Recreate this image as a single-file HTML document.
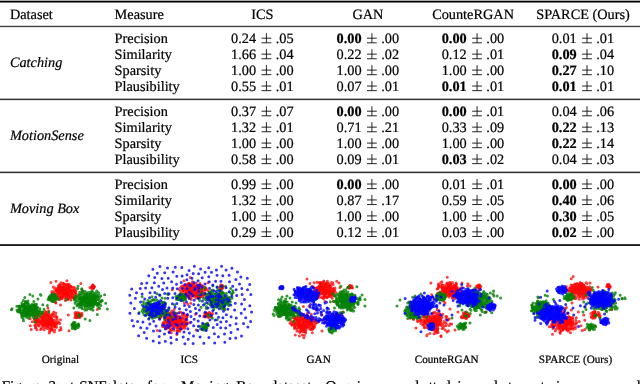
<!DOCTYPE html>
<html><head><meta charset="utf-8"><style>
html,body{margin:0;padding:0;background:#fff;width:640px;height:384px;overflow:hidden}
svg{display:block;will-change:transform}
text{font-family:"Liberation Serif", serif;fill:#000;stroke:#000;stroke-width:0.22px;text-rendering:geometricPrecision}
</style></head><body>
<svg width="640" height="384" viewBox="0 0 640 384">
<g opacity="0.999"><rect x="0" y="0.67" width="640" height="1.86" fill="#000" fill-opacity="1.0" stroke="none"/>
<rect x="0" y="25.78" width="640" height="1.37" fill="#000" fill-opacity="0.76" stroke="none"/>
<rect x="0" y="98.62" width="640" height="1.53" fill="#000" fill-opacity="0.8" stroke="none"/>
<rect x="0" y="171.6" width="640" height="1.57" fill="#000" fill-opacity="0.8" stroke="none"/>
<rect x="0" y="244.1" width="640" height="1.9" fill="#000" fill-opacity="0.88" stroke="none"/>
<text x="9.9" y="18.8" font-size="14.3" text-anchor="start"  >Dataset</text>
<text x="114.6" y="18.8" font-size="14.3" text-anchor="start"  >Measure</text>
<text x="262.4" y="18.8" font-size="14.3" text-anchor="middle"  >ICS</text>
<text x="367.9" y="18.8" font-size="14.3" text-anchor="middle"  >GAN</text>
<text x="473.05" y="18.8" font-size="14.3" text-anchor="middle"  >CounteRGAN</text>
<text x="583.0" y="18.8" font-size="14.3" text-anchor="middle"  >SPARCE (Ours)</text>
<text x="9.9" y="66.925" font-size="14.3" text-anchor="start" font-style="italic" >Catching</text>
<text x="114.6" y="43.0" font-size="14.3" text-anchor="start"  >Precision</text>
<text x="256.10" y="43.0" font-size="14.3" text-anchor="end">0.24</text>
<text x="275.70" y="43.0" font-size="14.3" text-anchor="start">.05</text>
<path d="M261.50 38.20H271.30M261.50 42.80H271.30M266.40 33.20V42.80" stroke="#000" stroke-width="0.85" fill="none"/>
<text x="361.60" y="43.0" font-size="14.3" text-anchor="end" font-weight="bold">0.00</text>
<text x="381.20" y="43.0" font-size="14.3" text-anchor="start">.00</text>
<path d="M367.00 38.20H376.80M367.00 42.80H376.80M371.90 33.20V42.80" stroke="#000" stroke-width="0.85" fill="none"/>
<text x="466.75" y="43.0" font-size="14.3" text-anchor="end" font-weight="bold">0.00</text>
<text x="486.35" y="43.0" font-size="14.3" text-anchor="start">.00</text>
<path d="M472.15 38.20H481.95M472.15 42.80H481.95M477.05 33.20V42.80" stroke="#000" stroke-width="0.85" fill="none"/>
<text x="576.70" y="43.0" font-size="14.3" text-anchor="end">0.01</text>
<text x="596.30" y="43.0" font-size="14.3" text-anchor="start">.01</text>
<path d="M582.10 38.20H591.90M582.10 42.80H591.90M587.00 33.20V42.80" stroke="#000" stroke-width="0.85" fill="none"/>
<text x="114.6" y="58.95" font-size="14.3" text-anchor="start"  >Similarity</text>
<text x="256.10" y="58.95" font-size="14.3" text-anchor="end">1.66</text>
<text x="275.70" y="58.95" font-size="14.3" text-anchor="start">.04</text>
<path d="M261.50 54.15H271.30M261.50 58.75H271.30M266.40 49.15V58.75" stroke="#000" stroke-width="0.85" fill="none"/>
<text x="361.60" y="58.95" font-size="14.3" text-anchor="end">0.22</text>
<text x="381.20" y="58.95" font-size="14.3" text-anchor="start">.02</text>
<path d="M367.00 54.15H376.80M367.00 58.75H376.80M371.90 49.15V58.75" stroke="#000" stroke-width="0.85" fill="none"/>
<text x="466.75" y="58.95" font-size="14.3" text-anchor="end">0.12</text>
<text x="486.35" y="58.95" font-size="14.3" text-anchor="start">.01</text>
<path d="M472.15 54.15H481.95M472.15 58.75H481.95M477.05 49.15V58.75" stroke="#000" stroke-width="0.85" fill="none"/>
<text x="576.70" y="58.95" font-size="14.3" text-anchor="end" font-weight="bold">0.09</text>
<text x="596.30" y="58.95" font-size="14.3" text-anchor="start">.04</text>
<path d="M582.10 54.15H591.90M582.10 58.75H591.90M587.00 49.15V58.75" stroke="#000" stroke-width="0.85" fill="none"/>
<text x="114.6" y="74.9" font-size="14.3" text-anchor="start"  >Sparsity</text>
<text x="256.10" y="74.9" font-size="14.3" text-anchor="end">1.00</text>
<text x="275.70" y="74.9" font-size="14.3" text-anchor="start">.00</text>
<path d="M261.50 70.10H271.30M261.50 74.70H271.30M266.40 65.10V74.70" stroke="#000" stroke-width="0.85" fill="none"/>
<text x="361.60" y="74.9" font-size="14.3" text-anchor="end">1.00</text>
<text x="381.20" y="74.9" font-size="14.3" text-anchor="start">.00</text>
<path d="M367.00 70.10H376.80M367.00 74.70H376.80M371.90 65.10V74.70" stroke="#000" stroke-width="0.85" fill="none"/>
<text x="466.75" y="74.9" font-size="14.3" text-anchor="end">1.00</text>
<text x="486.35" y="74.9" font-size="14.3" text-anchor="start">.00</text>
<path d="M472.15 70.10H481.95M472.15 74.70H481.95M477.05 65.10V74.70" stroke="#000" stroke-width="0.85" fill="none"/>
<text x="576.70" y="74.9" font-size="14.3" text-anchor="end" font-weight="bold">0.27</text>
<text x="596.30" y="74.9" font-size="14.3" text-anchor="start">.10</text>
<path d="M582.10 70.10H591.90M582.10 74.70H591.90M587.00 65.10V74.70" stroke="#000" stroke-width="0.85" fill="none"/>
<text x="114.6" y="90.85" font-size="14.3" text-anchor="start"  >Plausibility</text>
<text x="256.10" y="90.85" font-size="14.3" text-anchor="end">0.55</text>
<text x="275.70" y="90.85" font-size="14.3" text-anchor="start">.01</text>
<path d="M261.50 86.05H271.30M261.50 90.65H271.30M266.40 81.05V90.65" stroke="#000" stroke-width="0.85" fill="none"/>
<text x="361.60" y="90.85" font-size="14.3" text-anchor="end">0.07</text>
<text x="381.20" y="90.85" font-size="14.3" text-anchor="start">.01</text>
<path d="M367.00 86.05H376.80M367.00 90.65H376.80M371.90 81.05V90.65" stroke="#000" stroke-width="0.85" fill="none"/>
<text x="466.75" y="90.85" font-size="14.3" text-anchor="end" font-weight="bold">0.01</text>
<text x="486.35" y="90.85" font-size="14.3" text-anchor="start">.01</text>
<path d="M472.15 86.05H481.95M472.15 90.65H481.95M477.05 81.05V90.65" stroke="#000" stroke-width="0.85" fill="none"/>
<text x="576.70" y="90.85" font-size="14.3" text-anchor="end" font-weight="bold">0.01</text>
<text x="596.30" y="90.85" font-size="14.3" text-anchor="start">.01</text>
<path d="M582.10 86.05H591.90M582.10 90.65H591.90M587.00 81.05V90.65" stroke="#000" stroke-width="0.85" fill="none"/>
<text x="9.9" y="139.925" font-size="14.3" text-anchor="start" font-style="italic" >MotionSense</text>
<text x="114.6" y="116.0" font-size="14.3" text-anchor="start"  >Precision</text>
<text x="256.10" y="116.0" font-size="14.3" text-anchor="end">0.37</text>
<text x="275.70" y="116.0" font-size="14.3" text-anchor="start">.07</text>
<path d="M261.50 111.20H271.30M261.50 115.80H271.30M266.40 106.20V115.80" stroke="#000" stroke-width="0.85" fill="none"/>
<text x="361.60" y="116.0" font-size="14.3" text-anchor="end" font-weight="bold">0.00</text>
<text x="381.20" y="116.0" font-size="14.3" text-anchor="start">.00</text>
<path d="M367.00 111.20H376.80M367.00 115.80H376.80M371.90 106.20V115.80" stroke="#000" stroke-width="0.85" fill="none"/>
<text x="466.75" y="116.0" font-size="14.3" text-anchor="end" font-weight="bold">0.00</text>
<text x="486.35" y="116.0" font-size="14.3" text-anchor="start">.01</text>
<path d="M472.15 111.20H481.95M472.15 115.80H481.95M477.05 106.20V115.80" stroke="#000" stroke-width="0.85" fill="none"/>
<text x="576.70" y="116.0" font-size="14.3" text-anchor="end">0.04</text>
<text x="596.30" y="116.0" font-size="14.3" text-anchor="start">.06</text>
<path d="M582.10 111.20H591.90M582.10 115.80H591.90M587.00 106.20V115.80" stroke="#000" stroke-width="0.85" fill="none"/>
<text x="114.6" y="131.95" font-size="14.3" text-anchor="start"  >Similarity</text>
<text x="256.10" y="131.95" font-size="14.3" text-anchor="end">1.32</text>
<text x="275.70" y="131.95" font-size="14.3" text-anchor="start">.01</text>
<path d="M261.50 127.15H271.30M261.50 131.75H271.30M266.40 122.15V131.75" stroke="#000" stroke-width="0.85" fill="none"/>
<text x="361.60" y="131.95" font-size="14.3" text-anchor="end">0.71</text>
<text x="381.20" y="131.95" font-size="14.3" text-anchor="start">.21</text>
<path d="M367.00 127.15H376.80M367.00 131.75H376.80M371.90 122.15V131.75" stroke="#000" stroke-width="0.85" fill="none"/>
<text x="466.75" y="131.95" font-size="14.3" text-anchor="end">0.33</text>
<text x="486.35" y="131.95" font-size="14.3" text-anchor="start">.09</text>
<path d="M472.15 127.15H481.95M472.15 131.75H481.95M477.05 122.15V131.75" stroke="#000" stroke-width="0.85" fill="none"/>
<text x="576.70" y="131.95" font-size="14.3" text-anchor="end" font-weight="bold">0.22</text>
<text x="596.30" y="131.95" font-size="14.3" text-anchor="start">.13</text>
<path d="M582.10 127.15H591.90M582.10 131.75H591.90M587.00 122.15V131.75" stroke="#000" stroke-width="0.85" fill="none"/>
<text x="114.6" y="147.9" font-size="14.3" text-anchor="start"  >Sparsity</text>
<text x="256.10" y="147.9" font-size="14.3" text-anchor="end">1.00</text>
<text x="275.70" y="147.9" font-size="14.3" text-anchor="start">.00</text>
<path d="M261.50 143.10H271.30M261.50 147.70H271.30M266.40 138.10V147.70" stroke="#000" stroke-width="0.85" fill="none"/>
<text x="361.60" y="147.9" font-size="14.3" text-anchor="end">1.00</text>
<text x="381.20" y="147.9" font-size="14.3" text-anchor="start">.00</text>
<path d="M367.00 143.10H376.80M367.00 147.70H376.80M371.90 138.10V147.70" stroke="#000" stroke-width="0.85" fill="none"/>
<text x="466.75" y="147.9" font-size="14.3" text-anchor="end">1.00</text>
<text x="486.35" y="147.9" font-size="14.3" text-anchor="start">.00</text>
<path d="M472.15 143.10H481.95M472.15 147.70H481.95M477.05 138.10V147.70" stroke="#000" stroke-width="0.85" fill="none"/>
<text x="576.70" y="147.9" font-size="14.3" text-anchor="end" font-weight="bold">0.22</text>
<text x="596.30" y="147.9" font-size="14.3" text-anchor="start">.14</text>
<path d="M582.10 143.10H591.90M582.10 147.70H591.90M587.00 138.10V147.70" stroke="#000" stroke-width="0.85" fill="none"/>
<text x="114.6" y="163.85" font-size="14.3" text-anchor="start"  >Plausibility</text>
<text x="256.10" y="163.85" font-size="14.3" text-anchor="end">0.58</text>
<text x="275.70" y="163.85" font-size="14.3" text-anchor="start">.00</text>
<path d="M261.50 159.05H271.30M261.50 163.65H271.30M266.40 154.05V163.65" stroke="#000" stroke-width="0.85" fill="none"/>
<text x="361.60" y="163.85" font-size="14.3" text-anchor="end">0.09</text>
<text x="381.20" y="163.85" font-size="14.3" text-anchor="start">.01</text>
<path d="M367.00 159.05H376.80M367.00 163.65H376.80M371.90 154.05V163.65" stroke="#000" stroke-width="0.85" fill="none"/>
<text x="466.75" y="163.85" font-size="14.3" text-anchor="end" font-weight="bold">0.03</text>
<text x="486.35" y="163.85" font-size="14.3" text-anchor="start">.02</text>
<path d="M472.15 159.05H481.95M472.15 163.65H481.95M477.05 154.05V163.65" stroke="#000" stroke-width="0.85" fill="none"/>
<text x="576.70" y="163.85" font-size="14.3" text-anchor="end">0.04</text>
<text x="596.30" y="163.85" font-size="14.3" text-anchor="start">.03</text>
<path d="M582.10 159.05H591.90M582.10 163.65H591.90M587.00 154.05V163.65" stroke="#000" stroke-width="0.85" fill="none"/>
<text x="9.9" y="212.72500000000002" font-size="14.3" text-anchor="start" font-style="italic" >Moving Box</text>
<text x="114.6" y="188.8" font-size="14.3" text-anchor="start"  >Precision</text>
<text x="256.10" y="188.8" font-size="14.3" text-anchor="end">0.99</text>
<text x="275.70" y="188.8" font-size="14.3" text-anchor="start">.00</text>
<path d="M261.50 184.00H271.30M261.50 188.60H271.30M266.40 179.00V188.60" stroke="#000" stroke-width="0.85" fill="none"/>
<text x="361.60" y="188.8" font-size="14.3" text-anchor="end" font-weight="bold">0.00</text>
<text x="381.20" y="188.8" font-size="14.3" text-anchor="start">.00</text>
<path d="M367.00 184.00H376.80M367.00 188.60H376.80M371.90 179.00V188.60" stroke="#000" stroke-width="0.85" fill="none"/>
<text x="466.75" y="188.8" font-size="14.3" text-anchor="end">0.01</text>
<text x="486.35" y="188.8" font-size="14.3" text-anchor="start">.01</text>
<path d="M472.15 184.00H481.95M472.15 188.60H481.95M477.05 179.00V188.60" stroke="#000" stroke-width="0.85" fill="none"/>
<text x="576.70" y="188.8" font-size="14.3" text-anchor="end" font-weight="bold">0.00</text>
<text x="596.30" y="188.8" font-size="14.3" text-anchor="start">.00</text>
<path d="M582.10 184.00H591.90M582.10 188.60H591.90M587.00 179.00V188.60" stroke="#000" stroke-width="0.85" fill="none"/>
<text x="114.6" y="204.75" font-size="14.3" text-anchor="start"  >Similarity</text>
<text x="256.10" y="204.75" font-size="14.3" text-anchor="end">1.32</text>
<text x="275.70" y="204.75" font-size="14.3" text-anchor="start">.00</text>
<path d="M261.50 199.95H271.30M261.50 204.55H271.30M266.40 194.95V204.55" stroke="#000" stroke-width="0.85" fill="none"/>
<text x="361.60" y="204.75" font-size="14.3" text-anchor="end">0.87</text>
<text x="381.20" y="204.75" font-size="14.3" text-anchor="start">.17</text>
<path d="M367.00 199.95H376.80M367.00 204.55H376.80M371.90 194.95V204.55" stroke="#000" stroke-width="0.85" fill="none"/>
<text x="466.75" y="204.75" font-size="14.3" text-anchor="end">0.59</text>
<text x="486.35" y="204.75" font-size="14.3" text-anchor="start">.05</text>
<path d="M472.15 199.95H481.95M472.15 204.55H481.95M477.05 194.95V204.55" stroke="#000" stroke-width="0.85" fill="none"/>
<text x="576.70" y="204.75" font-size="14.3" text-anchor="end" font-weight="bold">0.40</text>
<text x="596.30" y="204.75" font-size="14.3" text-anchor="start">.06</text>
<path d="M582.10 199.95H591.90M582.10 204.55H591.90M587.00 194.95V204.55" stroke="#000" stroke-width="0.85" fill="none"/>
<text x="114.6" y="220.70000000000002" font-size="14.3" text-anchor="start"  >Sparsity</text>
<text x="256.10" y="220.70000000000002" font-size="14.3" text-anchor="end">1.00</text>
<text x="275.70" y="220.70000000000002" font-size="14.3" text-anchor="start">.00</text>
<path d="M261.50 215.90H271.30M261.50 220.50H271.30M266.40 210.90V220.50" stroke="#000" stroke-width="0.85" fill="none"/>
<text x="361.60" y="220.70000000000002" font-size="14.3" text-anchor="end">1.00</text>
<text x="381.20" y="220.70000000000002" font-size="14.3" text-anchor="start">.00</text>
<path d="M367.00 215.90H376.80M367.00 220.50H376.80M371.90 210.90V220.50" stroke="#000" stroke-width="0.85" fill="none"/>
<text x="466.75" y="220.70000000000002" font-size="14.3" text-anchor="end">1.00</text>
<text x="486.35" y="220.70000000000002" font-size="14.3" text-anchor="start">.00</text>
<path d="M472.15 215.90H481.95M472.15 220.50H481.95M477.05 210.90V220.50" stroke="#000" stroke-width="0.85" fill="none"/>
<text x="576.70" y="220.70000000000002" font-size="14.3" text-anchor="end" font-weight="bold">0.30</text>
<text x="596.30" y="220.70000000000002" font-size="14.3" text-anchor="start">.05</text>
<path d="M582.10 215.90H591.90M582.10 220.50H591.90M587.00 210.90V220.50" stroke="#000" stroke-width="0.85" fill="none"/>
<text x="114.6" y="236.65" font-size="14.3" text-anchor="start"  >Plausibility</text>
<text x="256.10" y="236.65" font-size="14.3" text-anchor="end">0.29</text>
<text x="275.70" y="236.65" font-size="14.3" text-anchor="start">.00</text>
<path d="M261.50 231.85H271.30M261.50 236.45H271.30M266.40 226.85V236.45" stroke="#000" stroke-width="0.85" fill="none"/>
<text x="361.60" y="236.65" font-size="14.3" text-anchor="end">0.12</text>
<text x="381.20" y="236.65" font-size="14.3" text-anchor="start">.01</text>
<path d="M367.00 231.85H376.80M367.00 236.45H376.80M371.90 226.85V236.45" stroke="#000" stroke-width="0.85" fill="none"/>
<text x="466.75" y="236.65" font-size="14.3" text-anchor="end">0.03</text>
<text x="486.35" y="236.65" font-size="14.3" text-anchor="start">.00</text>
<path d="M472.15 231.85H481.95M472.15 236.45H481.95M477.05 226.85V236.45" stroke="#000" stroke-width="0.85" fill="none"/>
<text x="576.70" y="236.65" font-size="14.3" text-anchor="end" font-weight="bold">0.02</text>
<text x="596.30" y="236.65" font-size="14.3" text-anchor="start">.00</text>
<path d="M582.10 231.85H591.90M582.10 236.45H591.90M587.00 226.85V236.45" stroke="#000" stroke-width="0.85" fill="none"/>
<text x="60.4" y="362.8" font-size="11.2" text-anchor="middle"  >Original</text>
<text x="189.3" y="362.8" font-size="11.2" text-anchor="middle"  >ICS</text>
<text x="318.6" y="362.8" font-size="11.2" text-anchor="middle"  >GAN</text>
<text x="446.7" y="362.8" font-size="11.2" text-anchor="middle"  >CounteRGAN</text>
<text x="575.5" y="362.8" font-size="11.2" text-anchor="middle"  >SPARCE (Ours)</text>
<text x="1.7" y="391.2" font-size="15" text-anchor="start"  >Figure</text>
<text x="48.5" y="391.2" font-size="15" text-anchor="start"  >3:</text>
<text x="70" y="391.2" font-size="15" text-anchor="start"  >t-SNE</text>
<text x="105.5" y="391.2" font-size="15" text-anchor="start"  >plots</text>
<text x="147" y="391.2" font-size="15" text-anchor="start"  >for</text>
<text x="181" y="391.2" font-size="15" text-anchor="start"  >Moving</text>
<text x="236.25" y="391.2" font-size="15" text-anchor="start"  >Box</text>
<text x="269.8" y="391.2" font-size="15" text-anchor="start"  >dataset.</text>
<text x="325.6" y="391.2" font-size="15" text-anchor="start"  >Our</text>
<text x="356.8" y="391.2" font-size="15" text-anchor="start"  >i</text>
<text x="415.2" y="391.2" font-size="15" text-anchor="start"  >l</text>
<text x="428.8" y="391.2" font-size="15" text-anchor="start"  >t</text>
<text x="432.8" y="391.2" font-size="15" text-anchor="start"  >t</text>
<text x="443.3" y="391.2" font-size="15" text-anchor="start"  >d</text>
<text x="457.3" y="391.2" font-size="15" text-anchor="start"  >i</text>
<text x="494" y="391.2" font-size="15" text-anchor="start"  >l</text>
<text x="508" y="391.2" font-size="15" text-anchor="start"  >t</text>
<text x="540.5" y="391.2" font-size="15" text-anchor="start"  >t</text>
<text x="556" y="391.2" font-size="15" text-anchor="start"  >i</text>
<text x="636.8" y="391.2" font-size="15" text-anchor="start"  >l</text></g>
<g transform="scale(0.1)" fill="none" stroke-width="30" stroke-linecap="round"><path stroke="#ff0000" stroke-opacity="0.75" d="M576 3225h0M530 3250h0M516 3299h0M593 2961h0M796 3170h0M426 3262h0M671 2913h0M450 3187h0M607 2906h0M495 3164h0M729 2981h0M570 2965h0M684 2946h0M636 2927h0M680 2996h0M924 2875h0M443 3138h0M444 3245h0M495 3275h0M800 3144h0M511 3177h0M518 3236h0M493 3330h0M492 3265h0M711 2924h0M777 3158h0M431 3236h0M590 2919h0M541 3252h0M587 2877h0M712 2925h0M669 2807h0M495 3187h0M652 2956h0M604 2905h0M498 3316h0M678 2900h0M382 3216h0M680 2899h0M450 3195h0M543 3262h0M596 3303h0M661 2930h0M605 2867h0M696 2961h0M534 3163h0M383 3205h0M454 3195h0M453 3194h0M559 3030h0M558 3130h0M521 2915h0M403 3165h0M546 3249h0M490 3140h0M698 2945h0M597 2903h0M520 3254h0M449 3237h0M464 3261h0M925 2875h0M756 3163h0M501 3216h0M790 3157h0M576 2893h0M650 2979h0M557 3156h0M939 2872h0M634 2930h0M710 2969h0M355 3278h0M465 3204h0M579 2920h0M698 2977h0M548 3228h0M761 2937h0M460 3254h0M688 2928h0M524 3229h0M501 3202h0M624 2923h0M583 2906h0M460 3256h0M688 2953h0M935 2879h0M643 2871h0M565 2907h0M729 2978h0M645 2959h0M667 2900h0M472 3150h0M354 3202h0M654 2846h0M818 3138h0M692 2921h0M493 3177h0M654 2912h0M485 3215h0M429 3169h0M775 3126h0M371 3191h0M536 3146h0M627 2895h0M384 3206h0M506 3190h0M929 2864h0M712 2866h0M596 2846h0M899 2874h0M559 3243h0M585 2945h0M417 3211h0M592 2996h0M921 2865h0M509 2824h0M558 3154h0M706 2933h0M543 3166h0M484 3161h0M697 2962h0M621 2954h0M402 3178h0M693 2944h0M607 3274h0M525 3152h0M515 3235h0M785 3161h0M690 3307h0M762 2949h0M667 2928h0M456 3186h0M753 3164h0M770 3175h0M765 3135h0M653 2922h0M486 3237h0M746 2904h0M667 2970h0M676 2918h0M680 2958h0M510 3243h0M585 2895h0M796 3151h0M638 2837h0M431 3141h0M477 3223h0M692 2942h0M794 3173h0M446 3244h0M463 3211h0M495 3213h0M715 2929h0M636 2874h0M664 2898h0M456 3261h0M434 3182h0M972 3096h0M658 2872h0M573 2919h0M507 3180h0M447 3230h0M694 2944h0M691 2877h0M434 3174h0M403 3171h0M496 3195h0M665 2883h0M510 3226h0M583 2909h0M480 3240h0M613 2979h0M692 2900h0M509 3213h0M819 3132h0M414 3204h0M348 3253h0M394 3219h0M673 2853h0M519 3194h0M480 3212h0M701 2914h0M477 3213h0M573 3197h0M432 3255h0M375 3157h0M814 3138h0M367 3219h0M490 2982h0M683 2914h0M922 2872h0M795 3140h0M753 2912h0M458 3274h0M424 3239h0M705 2910h0M346 3194h0M518 3227h0M523 3211h0M579 2881h0M643 2921h0"/>
<path stroke="#ff0000" stroke-opacity="0.75" d="M928 2867h0M443 3155h0M496 3208h0M478 3274h0M668 2934h0M667 2917h0M752 2905h0M709 2964h0M569 2906h0M676 2931h0M416 3219h0M746 2902h0M522 3283h0M614 2841h0M436 3222h0M614 2939h0M783 3146h0M596 2880h0M442 3158h0M431 3204h0M646 2906h0M466 3189h0M471 3234h0M312 3295h0M698 2923h0M461 3193h0M633 2940h0M497 3217h0M683 2870h0M512 3207h0M506 3295h0M507 3224h0M506 3200h0M611 2884h0M563 3175h0M485 3227h0M681 2846h0M796 3172h0M643 2906h0M718 2948h0M731 2956h0M671 2915h0M503 3185h0M484 3220h0M921 2872h0M495 3212h0M444 3219h0M704 2897h0M742 2976h0M800 3158h0M550 3271h0M626 2864h0M709 2999h0M583 2918h0M519 2932h0M928 2851h0M494 3183h0M538 3231h0M811 3154h0M721 2901h0M767 3163h0M616 2890h0M795 3162h0M588 2852h0M933 2875h0M760 2908h0M674 2876h0M567 2889h0M700 2890h0M582 2907h0M381 3256h0M447 3234h0M415 3223h0M717 2933h0M605 2865h0M635 2908h0M761 2968h0M664 2906h0M472 3263h0M610 3295h0M498 3243h0M674 2936h0M620 2929h0M423 3165h0M723 2918h0M478 3286h0M406 3296h0M922 2874h0M605 3050h0M708 2993h0M483 3200h0M665 2970h0M657 2936h0M597 2893h0M451 3242h0M622 2934h0M373 3189h0M679 2950h0M422 3173h0M636 2908h0M588 2932h0M754 2884h0M568 2901h0M665 2910h0M519 3212h0M519 3198h0M573 2908h0M662 2895h0M630 2832h0M626 2909h0M721 2903h0M754 2925h0M419 3193h0M594 2898h0M592 2967h0M723 2894h0M420 3137h0M721 2905h0M496 3201h0M475 3217h0M690 2934h0M619 2936h0M750 3177h0M438 3201h0M460 3154h0M471 3138h0M494 3216h0M365 3220h0M492 3186h0M675 2951h0M626 2969h0M757 3140h0M645 2926h0M709 2873h0M349 3164h0M829 2907h0M733 2889h0M544 3247h0M449 3239h0M525 3211h0M609 2975h0M508 3182h0M482 3163h0M936 2865h0M605 2912h0M498 3310h0M528 3211h0M704 2903h0M507 3251h0M602 2886h0M477 3244h0M470 3264h0M438 3230h0M467 3263h0M543 2937h0M570 3241h0M691 2843h0M632 2906h0M650 2914h0M751 2949h0M633 2924h0M644 2879h0M461 3125h0M646 2898h0M627 2893h0M635 2878h0M670 2937h0M500 3194h0M428 3203h0M725 2877h0M661 2946h0M499 3292h0M456 3222h0M587 3223h0M668 2946h0M370 3200h0M470 3283h0M405 3232h0M942 2868h0M600 2991h0M669 2949h0M609 2828h0M646 2905h0M633 2901h0M635 2924h0M618 2915h0M655 2934h0M537 3119h0M588 2875h0M808 2835h0M351 3212h0M487 3190h0M562 3247h0M501 3302h0M588 2909h0M434 3240h0M502 3209h0M431 3226h0M654 2950h0"/>
<path stroke="#ff0000" stroke-opacity="0.75" d="M627 2930h0M457 3175h0M416 3223h0M626 2952h0M533 3305h0M691 2970h0M919 2868h0M416 3215h0M520 3193h0M380 3245h0M673 2933h0M359 3237h0M375 3240h0M598 2884h0M930 2850h0M820 3156h0M729 2913h0M428 3239h0M512 3163h0M683 3150h0M809 3144h0M349 3158h0M613 2919h0M437 3203h0M425 3184h0M528 3242h0M453 3116h0M636 2908h0M413 3284h0M705 2908h0M596 2864h0M931 2878h0M485 3212h0M750 3131h0M790 3129h0M462 3239h0M605 3197h0M544 3234h0M755 3126h0M375 3125h0M509 3154h0M502 3237h0M585 2866h0M682 2978h0M690 2901h0M729 2943h0M602 2877h0M486 3111h0M484 3169h0M479 3081h0M417 3176h0M446 3144h0M688 2905h0M739 2872h0M765 3149h0M701 2915h0M421 3219h0M608 2975h0M358 3144h0M554 2955h0M621 2988h0M463 3147h0M783 3161h0M356 3257h0M677 2870h0M772 3148h0M533 2870h0M673 2951h0M936 2874h0M391 3202h0M521 3151h0M597 2942h0M919 2876h0M571 2932h0M565 2903h0M779 3146h0M437 3208h0M500 3246h0M659 2849h0M751 2924h0M436 3224h0M672 2844h0M474 3209h0M433 3221h0M426 3174h0M477 3260h0M629 2906h0M688 2957h0M653 3005h0M463 3147h0M620 2981h0M696 2899h0M322 3217h0M525 3240h0M344 3191h0M718 2945h0M633 2907h0M655 3004h0M585 2902h0M445 3225h0M931 2887h0M438 3258h0M497 3242h0M546 3202h0M802 2979h0M627 2944h0M487 3211h0M605 2911h0M555 3023h0M515 3282h0M371 3183h0M433 3179h0M756 3149h0M598 3236h0M563 2948h0M369 3210h0M714 2905h0M375 3184h0M681 2987h0M461 3121h0M484 3236h0M525 3138h0M434 3224h0M930 2870h0M671 2923h0M774 3159h0M769 3155h0M591 2900h0M441 3252h0M455 3152h0M408 3143h0M436 3215h0M560 2812h0M547 2935h0M677 2954h0M691 2875h0M441 3297h0M381 3226h0M501 3209h0M692 2858h0M465 3169h0M730 2973h0M477 3201h0M662 2951h0M441 3176h0M621 2872h0M504 3214h0M639 2863h0M771 3175h0M302 3188h0M545 3319h0M370 3298h0M414 3236h0M481 3179h0M492 3191h0M669 2946h0M530 3218h0M571 3172h0M586 2937h0M942 2863h0M436 3280h0M637 2941h0M605 2934h0M634 2889h0M534 3206h0M393 3259h0M421 3247h0M644 2883h0M359 3280h0M465 3177h0M673 2923h0M566 3272h0M800 3170h0M617 2898h0M664 2932h0M916 2886h0M482 3148h0M680 2890h0M552 2940h0M397 3231h0M619 2896h0M496 3193h0M518 3262h0M547 3263h0M493 3229h0M545 2884h0M543 2915h0M702 2860h0M471 3226h0M922 2874h0M646 2896h0M547 3301h0M642 2847h0M550 2879h0M565 3224h0M303 3258h0M667 2904h0M730 2911h0M659 2939h0"/>
<path stroke="#008000" stroke-opacity="0.8" d="M1057 3032h0M262 3072h0M726 3246h0M282 3135h0M301 3110h0M883 2971h0M925 3057h0M279 3142h0M822 3007h0M330 3150h0M994 2974h0M547 2984h0M941 2943h0M791 2944h0M270 3132h0M490 2972h0M947 3002h0M766 3264h0M745 2989h0M936 2977h0M277 3110h0M925 3023h0M845 3000h0M952 2983h0M779 3257h0M941 2950h0M781 3275h0M219 3152h0M198 3060h0M961 3041h0M879 3058h0M749 3289h0M518 3009h0M281 3112h0M541 2962h0M973 3046h0M829 2912h0M514 2953h0M245 3062h0M185 3121h0M534 2962h0M836 2940h0M249 3122h0M252 3151h0M265 3111h0M930 2993h0M832 2960h0M556 2954h0M246 3158h0M1022 3004h0M728 3260h0M290 3062h0M750 3226h0M913 3053h0M802 2999h0M270 3131h0M281 3081h0M320 3088h0M302 3109h0M252 3132h0M330 3089h0M514 2986h0M961 3005h0M750 2963h0M377 3118h0M926 2977h0M809 2935h0M238 3096h0M222 3148h0M905 2926h0M805 3047h0M280 3010h0M760 3266h0M495 2998h0M268 3132h0M248 2975h0M891 3039h0M850 2975h0M929 2922h0M881 2988h0M739 3245h0M240 3112h0M755 3253h0M992 3026h0M779 2955h0M951 2999h0M234 3053h0M905 3034h0M986 2931h0M342 3081h0M379 2990h0M234 3112h0M548 2952h0M930 3007h0M401 3118h0M355 3090h0M305 3088h0M933 3064h0M223 3135h0M250 3096h0M988 2968h0M569 2978h0M837 3006h0M552 2997h0M543 2946h0M543 2989h0M902 3015h0M860 2950h0M777 3037h0M120 3088h0M544 3001h0M232 3187h0M877 2940h0M897 2923h0M536 2968h0M928 3051h0M879 3012h0M370 3175h0M899 3205h0M222 3068h0M298 3109h0M528 2952h0M881 2982h0M736 3255h0M219 3031h0M283 3038h0M877 3015h0M819 3020h0M891 2979h0M276 3151h0M733 3253h0M789 3262h0M562 2968h0M829 2980h0M290 3143h0M243 3095h0M294 3062h0M541 3002h0M872 3030h0M234 3004h0M504 2999h0M852 2989h0M780 3261h0M218 3145h0M272 3128h0M748 3003h0M311 3066h0M961 2973h0M239 3123h0M307 3090h0M988 2997h0M327 3124h0M719 3254h0M257 3066h0M286 3151h0M282 3094h0M288 3111h0M930 3004h0M814 2984h0M356 3120h0M876 2973h0M806 3027h0M815 2975h0M815 3001h0M211 3059h0M806 2981h0M797 2922h0M820 3023h0M810 2984h0M538 2966h0M791 3150h0M780 3243h0M323 3056h0M824 3052h0M918 2970h0M557 2985h0M523 3002h0M302 3110h0M865 3041h0M258 3145h0M193 3098h0M857 3016h0M289 3113h0M885 3032h0M521 2999h0M952 2978h0M879 2926h0M336 3056h0M860 2940h0M212 3134h0M885 2954h0M258 3096h0M856 2993h0M743 3277h0M498 2999h0M531 3008h0M365 3088h0M943 3041h0M751 3227h0M510 2961h0M940 3019h0M866 2973h0M898 3014h0M788 3160h0M988 2938h0M362 3121h0M271 3089h0M566 2996h0M259 3111h0M863 3027h0M311 3143h0M904 3026h0M856 3008h0M542 3012h0M926 3020h0M502 2976h0M860 3001h0M273 3132h0M912 2943h0M996 3085h0M837 2945h0M291 3092h0M1008 3010h0M516 2991h0M818 2897h0M308 3098h0M848 3099h0M944 2941h0M316 3107h0M392 3142h0M284 3064h0M823 3084h0M253 3021h0M758 3013h0M962 2951h0M263 3099h0M289 3113h0M915 3010h0M555 2985h0M858 2993h0"/>
<path stroke="#008000" stroke-opacity="0.8" d="M720 3242h0M938 3004h0M216 3060h0M813 3033h0M382 3116h0M978 3034h0M382 3123h0M322 3086h0M535 2956h0M907 2939h0M867 2990h0M279 3072h0M904 2975h0M270 3150h0M856 2981h0M868 3072h0M777 2885h0M838 3002h0M906 2997h0M271 3161h0M291 3167h0M273 3059h0M1008 3054h0M815 3076h0M194 3069h0M784 3239h0M343 3088h0M291 3103h0M885 3012h0M859 2998h0M544 2967h0M538 3010h0M310 3090h0M908 3092h0M910 2962h0M320 3142h0M740 3228h0M299 3072h0M338 3111h0M338 3091h0M984 3045h0M873 2973h0M869 3039h0M837 3006h0M792 3161h0M522 2944h0M883 3030h0M533 3014h0M286 3182h0M924 3000h0M236 3081h0M283 3077h0M936 2997h0M276 3155h0M349 3043h0M744 3279h0M173 3110h0M872 3036h0M354 3065h0M864 2998h0M1073 3090h0M946 2960h0M517 2961h0M860 2965h0M886 3014h0M268 3121h0M275 3098h0M874 3014h0M304 3098h0M799 2990h0M913 3038h0M732 3258h0M509 2981h0M513 2970h0M841 2995h0M310 3076h0M279 3069h0M224 3050h0M270 3053h0M824 3005h0M885 3035h0M783 2974h0M917 3046h0M300 3068h0M279 3065h0M301 3156h0M170 3102h0M900 3039h0M318 3084h0M273 3162h0M305 3109h0M874 3073h0M357 3107h0M299 3088h0M474 3055h0M909 2991h0M812 3048h0M521 2942h0M784 3046h0M336 3084h0M343 3107h0M874 2983h0M919 2909h0M429 3119h0M931 3026h0M906 3005h0M537 2988h0M505 2991h0M881 3010h0M850 3001h0M279 3063h0M302 3109h0M297 3162h0M201 3087h0M534 2993h0M320 3093h0M891 3035h0M287 3131h0M524 3011h0M318 3151h0M314 3141h0M280 3079h0M499 2982h0M759 3256h0M326 3138h0M489 3120h0M722 3285h0M863 3031h0M755 3263h0M950 2981h0M270 3112h0M827 3015h0M249 3078h0M852 3018h0M905 2968h0M842 2970h0M440 3092h0M399 3088h0M510 2977h0M741 3257h0M307 3142h0M906 3023h0M796 3026h0M880 3049h0M338 3016h0M269 3026h0M854 3023h0M168 3062h0M1010 3019h0M896 2999h0M263 3121h0M351 3140h0M328 2960h0M226 3163h0M912 2961h0M285 3086h0M554 2952h0M807 3052h0M294 3106h0M916 2949h0M951 3003h0M543 2996h0M832 2979h0M876 3071h0M299 3138h0M810 2994h0M917 2974h0M350 3108h0M826 2986h0M823 3004h0M329 3086h0M894 2999h0M299 3103h0M957 3021h0M868 3035h0M847 3041h0M799 3051h0M204 3117h0M979 2966h0M797 2950h0M278 3097h0M811 2956h0M937 2949h0M350 3140h0M280 3178h0M779 3008h0M928 3037h0M905 3055h0M266 3104h0M269 3062h0M345 3151h0M256 3067h0M852 2915h0M943 3037h0M282 3096h0M880 2991h0M547 2980h0M235 3114h0M543 3001h0M850 2975h0M851 3059h0M851 3074h0M375 3076h0M540 2947h0M862 2995h0M1017 3008h0M545 2962h0M324 3069h0M886 3037h0M880 3007h0M973 3145h0M820 2997h0M848 2943h0M374 3133h0M740 3254h0M522 2976h0M780 2863h0M881 3027h0M330 3067h0M840 2994h0M238 3104h0M290 3159h0M358 3049h0M250 3105h0M552 2975h0M301 3126h0M852 3190h0M861 2939h0M244 3041h0M542 2993h0M858 2934h0M540 2976h0M238 3093h0M277 3037h0M280 3101h0M863 3071h0M882 2982h0M284 3099h0M847 3035h0M207 3125h0"/>
<path stroke="#008000" stroke-opacity="0.8" d="M919 2997h0M967 2911h0M769 3057h0M366 3108h0M498 2979h0M259 3079h0M242 3102h0M854 3000h0M375 3106h0M888 2992h0M259 3014h0M896 3032h0M269 3138h0M895 3015h0M775 3054h0M508 2970h0M774 3257h0M896 2996h0M519 2957h0M849 3019h0M961 2966h0M868 3034h0M371 3073h0M359 3063h0M247 3104h0M510 2968h0M726 3267h0M837 3051h0M841 2987h0M943 2995h0M807 3023h0M221 3061h0M866 3099h0M213 3140h0M664 2995h0M261 3030h0M975 3035h0M394 3160h0M420 3121h0M957 3019h0M1046 2948h0M860 2990h0M250 3112h0M909 3001h0M521 2970h0M516 2983h0M319 3086h0M909 2992h0M584 2988h0M735 3225h0M338 3110h0M203 3100h0M889 3018h0M911 3062h0M547 2965h0M529 2974h0M804 3031h0M945 3012h0M381 3139h0M279 3112h0M806 3022h0M751 3032h0M884 2965h0M934 2960h0M338 3065h0M211 3128h0M328 3087h0M319 3087h0M925 2996h0M409 2952h0M347 3124h0M289 3134h0M249 3072h0M887 3084h0M248 3062h0M762 3277h0M951 3014h0M866 2974h0M247 3125h0M755 2976h0M849 3061h0M855 3045h0M260 3150h0M338 3109h0M910 3043h0M302 3054h0M179 3112h0M188 3062h0M793 3072h0M941 3035h0M909 2980h0M969 3044h0M186 3106h0M286 3074h0M874 2943h0M931 2976h0M268 3130h0M978 3063h0M846 3026h0M291 3102h0M404 2946h0M235 3207h0M522 2967h0M336 3090h0M889 2979h0M330 3173h0M872 2962h0M519 2971h0M222 3129h0M354 3059h0M396 3109h0M820 2925h0M788 3255h0M516 2971h0M242 3045h0M744 2996h0M358 3098h0M911 3001h0M827 2985h0M929 3029h0M944 3019h0M906 3082h0M524 2980h0M878 2988h0M215 3104h0M366 3115h0M516 2999h0M308 3087h0M956 3016h0M321 3043h0M534 2982h0M830 3039h0M549 2977h0M518 3004h0M257 3138h0M925 3075h0M244 3110h0M919 3015h0M365 3042h0M973 2916h0M517 2970h0M218 3172h0M277 3124h0M985 3076h0M208 3094h0M480 2994h0M300 3155h0M239 3154h0M818 2887h0M903 2940h0M859 3056h0M937 3022h0M501 2957h0M554 2955h0M967 3033h0M325 3124h0M897 3066h0M262 3171h0M863 2984h0M216 3118h0M737 3277h0M738 3080h0M748 3254h0M963 3030h0M893 3004h0M817 3031h0M292 3079h0M188 3089h0M946 2988h0M945 2978h0M243 3101h0M920 3026h0M876 3034h0M522 2985h0M527 2979h0M941 3044h0M379 3156h0M977 2992h0M254 3131h0M841 3037h0M519 3010h0M956 2931h0M805 2973h0M966 2963h0M418 3138h0M505 2977h0M760 3285h0M730 3260h0M428 3047h0M764 3257h0M283 3135h0M355 3096h0M762 2988h0M261 3098h0M286 3133h0M237 3104h0M923 3017h0M990 3042h0M294 3145h0M220 3133h0M904 3029h0M289 3146h0M976 3059h0M1008 2961h0M979 2991h0M791 3151h0M914 3004h0M836 2975h0M263 3116h0M790 2985h0M971 2959h0M821 3009h0M947 2965h0M527 2992h0M952 2975h0M299 2946h0M251 3105h0M349 3181h0M317 3055h0M362 3079h0M892 2956h0M317 3090h0M348 3049h0M347 3220h0M246 3128h0M823 2999h0M272 3087h0M930 3102h0M306 3104h0M198 3095h0M854 2973h0M259 3145h0M795 2985h0M863 2985h0M829 3005h0M115 3097h0M355 3146h0M493 2970h0M562 2986h0"/>
<path stroke="#ff0000" stroke-opacity="0.75" d="M2208 2885h0M1906 2921h0M1972 2861h0M1720 3214h0M1702 3302h0M1962 3299h0M1830 3191h0M1952 2895h0M1936 2845h0M1597 3181h0M1931 2892h0M1739 3236h0M1654 3164h0M2080 2827h0M1837 3197h0M1887 2944h0M1925 2935h0M1925 2910h0M1825 2937h0M1751 3250h0M1956 2939h0M1981 2954h0M2015 2875h0M1689 3217h0M1733 3262h0M1899 2901h0M1818 3129h0M1918 2900h0M1942 2930h0M1888 2942h0M2013 2857h0M1960 2859h0M1900 2928h0M1947 2894h0M1975 2898h0M2037 3165h0M2096 3129h0M1747 3238h0M1715 3238h0M1775 3241h0M1906 2855h0M1731 3255h0M1946 2956h0M1840 2808h0M1935 2895h0M1844 3030h0M1740 3206h0M1723 2897h0M1936 2907h0M1934 2891h0M1805 3201h0M1878 2854h0M1920 2860h0M1933 2900h0M1990 2892h0M1887 2954h0M1710 3237h0M1724 3220h0M2040 2895h0M1804 3204h0M1705 3187h0M1910 2867h0M2199 2877h0M2223 2875h0M1866 3181h0M1676 3263h0M1921 2920h0M1916 2906h0M1726 3242h0M1895 2927h0M1793 3185h0M1834 2941h0M1935 2896h0M2051 3169h0M2030 2970h0M1791 3215h0M1684 3177h0M1970 2908h0M1994 2976h0M1752 3234h0M1691 3170h0M1969 2920h0M1873 2850h0M2028 2924h0M1968 2955h0M1807 2917h0M1825 2921h0M1902 2917h0M1885 2895h0M1794 3269h0M2080 3168h0M2014 2856h0M1886 2905h0M1896 2906h0M2081 3167h0M1888 2915h0M1870 2899h0M1938 2916h0M1914 2938h0M1961 2888h0M1763 3140h0M1696 3247h0M2032 2940h0M1728 3219h0M1849 2941h0M1774 3298h0M1804 3291h0M1914 2936h0M1896 2846h0M1941 2911h0M1921 2874h0M1869 3165h0M1791 3195h0M1782 3248h0M1759 3222h0M1869 3237h0M1825 3229h0M1776 3283h0M1820 2904h0M1908 2846h0M2032 2905h0M1888 2914h0M1755 3215h0M1707 3189h0M2090 3141h0M1736 3210h0M1869 3203h0M1888 2912h0M1787 3277h0M1689 3131h0M1954 2928h0M1740 3177h0M1797 3313h0M1874 2846h0M1797 3164h0M1631 3227h0M1924 2818h0M1809 3194h0M1780 3232h0M1989 2976h0M1842 3255h0M1690 3237h0M1971 2956h0M1841 2857h0M1648 3200h0M1921 2910h0M1980 2956h0M2051 2891h0M1862 2956h0M1713 3237h0M1758 3160h0M1826 2903h0M1877 3042h0M1885 2901h0M1828 2890h0M1733 3221h0M1680 3126h0M1794 3275h0M2080 3167h0M1720 3221h0M2036 2950h0M2114 3170h0M1931 2915h0M1896 2980h0M2052 2891h0M1770 3201h0M1738 3182h0M1902 2859h0M1950 2939h0M1907 2936h0M1945 2869h0M1792 3236h0M1768 3190h0M1642 3266h0M1903 2774h0M2007 2882h0M2004 2921h0M1690 3251h0M1854 3232h0M1665 3141h0M1866 2916h0M1773 3244h0M2000 2834h0M1953 2894h0M1655 3285h0M1958 2916h0M2029 2931h0M1779 3193h0M1772 3201h0M1902 2883h0M2011 2968h0M2083 3155h0M1941 2940h0M2084 3176h0M2066 3140h0M1907 2927h0M1932 2908h0M1920 2848h0M2093 3123h0M1898 2984h0"/>
<path stroke="#ff0000" stroke-opacity="0.75" d="M1919 2889h0M2103 3139h0M1861 3261h0M1708 3152h0M1907 2909h0M1833 3272h0M1742 3252h0M1674 3195h0M1904 2918h0M1913 2972h0M1724 3160h0M2061 2889h0M2127 3136h0M1812 3273h0M2244 3088h0M2029 2860h0M2029 2950h0M1687 3208h0M1739 3302h0M1852 2966h0M1794 3186h0M1971 2875h0M1918 2864h0M1850 3150h0M1888 2836h0M1703 3208h0M1611 3172h0M1640 3231h0M1726 3255h0M1720 3147h0M1936 2874h0M1886 2844h0M1953 2925h0M2055 3163h0M1770 3210h0M1807 3200h0M1851 3211h0M1573 3306h0M1911 2866h0M2209 2847h0M1989 2926h0M1784 3230h0M1986 2952h0M2046 2943h0M1812 2866h0M1770 3201h0M1636 3238h0M1785 3237h0M1691 3194h0M1938 2934h0M1776 3225h0M1656 3199h0M1897 2945h0M1684 3211h0M1679 3209h0M1941 2946h0M2043 3155h0M1696 3183h0M1994 2872h0M1927 2888h0M1773 3230h0M1865 2877h0M1709 3157h0M1748 3223h0M2053 2874h0M1859 2875h0M1756 3141h0M1889 2941h0M1684 3199h0M1673 3274h0M1983 2856h0M1671 3223h0M1773 3206h0M1716 3141h0M1709 3279h0M1951 2876h0M2087 3163h0M1713 3328h0M1671 3280h0M1759 3258h0M1789 3223h0M1738 3216h0M1749 3272h0M1844 2916h0M2210 2872h0M1821 3230h0M1626 3264h0M2111 3151h0M1529 3125h0M1781 3240h0M1946 2912h0M1953 2894h0M1784 3308h0M1747 3239h0M1826 3257h0M1762 3227h0M1760 3270h0M1834 3226h0M1888 2922h0M1951 2922h0M1696 3212h0M1820 2859h0M2029 2870h0M2019 2876h0M1755 3182h0M2081 3161h0M1947 2905h0M1659 3170h0M1986 2854h0M2094 3166h0M1811 3242h0M2215 2881h0M2228 2876h0M1971 2865h0M2039 2870h0M1861 2940h0M1910 2851h0M2016 2917h0M1785 3184h0M1880 2837h0M1775 3255h0M1782 3188h0M1682 3215h0M1750 3219h0M1987 2890h0M1818 3288h0M2008 2916h0M1949 2890h0M1842 3262h0M1722 3196h0M1945 2890h0M1803 3121h0M2018 2871h0M1890 2907h0M1678 3221h0M1814 3191h0M1879 2944h0M1873 2885h0M1909 2904h0M1919 2921h0M1695 3200h0M1724 3230h0M2067 3159h0M1699 3275h0M1963 2962h0M1764 3274h0M1685 3276h0M1822 3181h0M1762 3203h0M2206 2854h0M1734 3200h0M1913 2914h0M1786 3199h0M1931 2955h0M1805 3263h0M1712 3180h0M1952 2899h0M1707 3166h0M1668 3176h0M2054 2936h0M1754 3217h0M1776 3168h0M2100 3139h0M1714 3261h0M1614 3121h0M2224 2884h0M1974 2925h0M2228 2880h0M2218 2856h0M2217 2866h0M2228 2855h0M1768 3254h0M1939 2871h0M2047 3131h0M1986 2956h0M1760 3134h0M2010 2861h0M1937 2934h0M1709 3133h0M1942 2924h0M1957 2939h0M1924 2852h0M1969 2971h0M1799 3260h0M1731 3153h0M1941 2849h0M1742 3095h0M2068 3129h0M1708 3245h0M1849 2889h0M1933 2843h0M1899 2900h0M1731 3195h0M1810 3247h0M1990 2883h0M1874 2875h0M1642 3225h0M1841 3238h0M1842 3137h0"/>
<path stroke="#ff0000" stroke-opacity="0.75" d="M1899 2838h0M1690 3319h0M1961 2830h0M1746 3151h0M2008 2892h0M1824 3221h0M1730 3196h0M1962 2880h0M1803 3255h0M1759 3136h0M1717 3241h0M2090 3159h0M1907 2952h0M1635 3150h0M1987 2879h0M1703 3243h0M2049 2903h0M1968 2892h0M1996 2874h0M2203 2869h0M1983 2961h0M1808 3229h0M1870 2873h0M2057 3157h0M1703 3249h0M2101 3136h0M1994 2874h0M2202 2865h0M1808 3211h0M1800 2882h0M1903 2936h0M1960 2927h0M2008 2891h0M2216 2877h0M1708 3165h0M1769 3313h0M1836 2898h0M1736 3141h0M1910 2945h0M2224 2868h0M1843 2960h0M1851 2972h0M2008 2967h0M1918 2843h0M2101 3156h0M1718 3210h0M1993 2901h0M1940 2870h0M1976 2979h0M1849 3248h0M1658 3130h0M1701 3198h0M1902 2882h0M1720 3163h0M2094 3139h0M1842 2883h0M1663 3284h0M1798 3190h0M2067 3154h0M1718 3109h0M1783 2978h0M1922 2860h0M2224 2867h0M1854 2888h0M1896 3227h0M1892 2972h0M1864 2874h0M1880 3230h0M2010 2901h0M1881 2876h0M1866 2965h0M1730 3146h0M1911 2955h0M1853 3216h0M1711 3301h0M1896 2875h0M1845 3259h0M1796 2897h0M1831 2902h0M2065 3132h0M2088 3139h0M2211 2892h0M1892 2915h0M1876 3149h0M1968 2902h0M2071 3144h0M1868 2926h0M1978 2933h0M1675 3177h0M1912 2911h0M1791 3243h0M1897 2886h0M2220 2866h0M1688 3209h0M1811 3254h0M2202 2868h0M1847 3185h0M1795 3173h0M1988 2935h0M1907 3033h0M1771 3245h0M1702 3169h0M1594 3185h0M2099 3148h0M1903 2861h0M2081 2908h0M1907 2904h0M1881 2911h0M1879 2877h0M2006 2924h0M1913 2995h0M2096 3153h0M1840 3168h0M1668 3199h0M1701 3210h0M2019 2947h0M2230 2866h0M1696 3155h0M1625 3156h0M1792 3191h0M1808 3200h0M1660 3215h0M2099 3143h0M1779 3194h0M1794 3270h0M1817 3285h0M1648 3154h0M2062 2884h0M1758 3164h0M1748 3222h0M1704 3226h0M1928 2910h0M1715 3133h0M1766 3253h0M1663 3197h0M1726 3177h0M1949 2877h0M1768 3344h0M2058 3136h0M1719 3297h0M1807 3235h0M1904 2870h0M2206 2877h0M1707 3232h0M1784 3238h0M1890 2833h0M1969 2888h0M1846 3283h0M1789 3239h0M1694 3176h0M1750 3206h0M1763 3186h0M1648 3235h0M2088 3152h0M1824 3154h0M1755 3196h0M1834 2898h0M1725 3177h0M1668 3229h0M1514 3166h0M1984 2894h0M1784 3278h0M1740 3217h0M1662 3226h0M1641 3154h0M1802 3260h0M1780 3166h0M1785 3212h0M1690 3234h0M1839 2855h0M1964 2877h0M1803 3295h0M1657 3166h0M1898 2872h0M1754 3231h0M1869 3173h0M1737 3210h0M1878 2866h0M1873 2863h0M1713 3123h0M1862 2851h0M1743 3186h0M2218 2878h0M1849 3240h0M2216 2883h0M1922 2953h0M1961 2980h0M1690 3260h0M1963 2960h0M1998 2968h0M1864 2894h0M1955 3142h0M1722 3139h0M1881 2908h0M1825 3147h0M2016 2905h0M1645 3175h0M1646 3174h0M1941 2962h0"/>
<path stroke="#008000" stroke-opacity="0.8" d="M2186 2972h0M2098 2983h0M1578 3078h0M1778 2961h0M2224 3044h0M2146 3066h0M2233 3073h0M2260 3007h0M2123 3051h0M2184 3006h0M2140 2954h0M1579 3054h0M1807 2971h0M2184 3051h0M1789 2966h0M2034 3273h0M2113 2925h0M1644 3138h0M2171 2936h0M2154 3063h0M2251 3051h0M1493 3038h0M2084 3148h0M2082 2988h0M1635 3100h0M2214 2993h0M1689 3099h0M1507 3040h0M2175 3043h0M2245 3023h0M2117 3029h0M2029 3296h0M2183 3057h0M2131 2981h0M1592 3078h0M1689 3088h0M2049 2877h0M1623 3119h0M2296 2974h0M1846 2952h0M1530 3064h0M2132 2965h0M1545 3132h0M2058 3244h0M2249 2998h0M2295 2995h0M1746 3047h0M2279 2987h0M2251 3010h0M2239 3013h0M2184 3003h0M2126 2958h0M2078 3259h0M1502 3022h0M1836 2995h0M1529 3047h0M2175 3015h0M1609 3112h0M2291 3038h0M1548 3118h0M1626 3026h0M1565 3094h0M2019 2890h0M2213 3064h0M1452 3100h0M2258 3007h0M1540 3158h0M1823 2980h0M2233 3030h0M2196 3044h0M1495 3089h0M2250 3094h0M2216 2910h0M1582 3084h0M1510 3047h0M1538 3094h0M2310 2979h0M1594 3079h0M1571 3121h0M1520 2967h0M1608 3157h0M2195 2935h0M2110 2932h0M2101 2973h0M1777 2973h0M2060 2963h0M2066 3244h0M1596 3093h0M2114 3031h0M2252 2971h0M1609 3135h0M1773 2975h0M1656 3161h0M1547 3128h0M2245 2976h0M2144 2996h0M1816 2962h0M1564 3159h0M1747 3131h0M2159 3050h0M2127 3012h0M2175 3033h0M1607 3078h0M2186 3015h0M2192 2953h0M2173 2871h0M1484 3087h0M2104 3051h0M2138 2981h0M2161 2997h0M1643 3090h0M2155 3056h0M1816 2984h0M2181 3055h0M2055 3283h0M1826 2972h0M2168 2980h0M1532 3061h0M2117 2947h0M1547 3121h0M2206 2955h0M2304 3017h0M1490 3115h0M2130 2858h0M1656 3141h0M2100 2970h0M1603 3113h0M2217 2927h0M2178 2901h0M1521 3088h0M2328 2907h0M2151 2942h0M1640 3140h0M2185 2986h0M1621 3124h0M2202 2976h0M2175 3013h0M1586 3094h0M1808 2966h0M1622 3134h0M1619 3074h0M1574 3040h0M2274 2996h0M1577 3120h0M2238 2984h0M1547 3090h0M2116 2942h0M1539 3145h0M1834 2973h0M2225 2985h0M2119 2966h0M2032 3299h0M1600 3134h0M2124 3182h0M1590 3086h0M1578 3097h0M1524 3100h0M2229 2926h0M1780 2964h0M2178 2980h0M2233 3065h0M1541 3064h0M1512 3100h0M2104 2951h0M1847 2984h0M2064 3277h0M1512 3168h0M1818 2971h0M2268 2983h0M2054 3263h0M1598 3091h0M2074 2968h0M2095 2964h0M2209 3017h0M2152 3034h0M2070 2947h0M1807 2977h0M1813 2950h0M2123 2958h0M2152 2961h0M2219 2976h0M2136 2991h0M2156 2984h0M2154 2999h0M1641 3091h0M2171 2974h0M1466 3034h0M2269 3000h0M1461 3048h0M1574 3103h0M2176 2986h0M2121 3017h0M1541 3034h0M1584 3097h0M1565 3065h0M1535 3065h0M2140 3072h0M1491 3100h0M1462 3080h0M1499 3022h0M2210 2992h0M1530 3113h0M2235 3018h0M2252 3010h0M2227 3002h0M1632 3059h0M2271 3042h0M1582 3082h0M1467 3093h0M1482 3080h0M1531 3115h0M2132 2982h0M2228 3083h0M1620 2980h0M1436 3092h0M1513 3114h0M2121 3014h0M2320 2983h0M1561 3064h0M2115 3026h0M2067 2986h0M1502 3121h0M1517 3158h0M1788 2982h0M2255 3000h0M1515 3096h0M1607 3096h0M1839 2986h0M1801 2963h0M1573 3115h0M1818 2994h0M1807 2948h0M1627 3104h0M1607 3149h0M2318 2938h0M2079 2995h0M1752 3130h0M1681 2944h0M2090 2981h0M2190 3053h0"/>
<path stroke="#008000" stroke-opacity="0.8" d="M2182 3020h0M1579 3055h0M1648 3193h0M2138 3094h0M2259 3023h0M1543 3048h0M2211 3021h0M1532 2994h0M2001 3264h0M2130 3002h0M1531 3158h0M2242 3015h0M1505 3106h0M1795 2945h0M1554 3116h0M2126 2993h0M2251 2994h0M1441 3101h0M1800 2971h0M2037 2986h0M2108 2949h0M2233 3069h0M2097 3008h0M1791 2997h0M2233 2985h0M2054 2996h0M2127 3012h0M2087 2986h0M2092 2922h0M2032 3291h0M1839 2959h0M1605 3089h0M1522 3055h0M1525 3183h0M1586 3131h0M1521 3044h0M2205 2922h0M2190 3011h0M2273 2989h0M1470 3143h0M2060 3285h0M2087 2964h0M2210 3004h0M2189 3059h0M1996 3005h0M2230 2932h0M1510 3105h0M1421 2968h0M1645 3095h0M2128 3010h0M1848 2980h0M2149 3029h0M2267 2965h0M1821 2973h0M1786 2978h0M1593 3092h0M1786 2973h0M1498 3056h0M2203 3002h0M1575 3081h0M2145 2976h0M2160 2980h0M1515 3079h0M2094 2999h0M2116 3009h0M2115 2954h0M2183 3010h0M1429 3093h0M2273 2965h0M1480 3118h0M1450 3084h0M1793 2984h0M1645 3148h0M2130 3002h0M2131 2929h0M2171 3197h0M2279 3027h0M1448 3075h0M1485 3061h0M2086 2958h0M2146 2982h0M1833 2976h0M1545 3066h0M2125 2900h0M2109 3017h0M1561 3083h0M1558 3055h0M2238 3006h0M2045 3251h0M1782 2985h0M1484 3145h0M2292 3010h0M2088 3153h0M2270 2976h0M1620 3019h0M1612 3037h0M1832 3002h0M2197 2991h0M1553 3150h0M2169 2990h0M2155 2986h0M1793 2964h0M1579 3106h0M1534 3123h0M2244 3016h0M1600 2952h0M2200 2927h0M1435 3018h0M1421 3108h0M1794 2983h0M2010 3072h0M2132 2991h0M2042 3271h0M1600 3096h0M1549 3083h0M1556 3051h0M1538 3089h0M2247 3024h0M1553 3115h0M1477 3049h0M2164 3041h0M2286 3000h0M1602 3109h0M2156 2942h0M1429 3125h0M2063 3086h0M1813 2973h0M1463 3082h0M1554 3156h0M2187 3014h0M2318 2940h0M1535 3106h0M1505 3153h0M2207 2938h0M1832 2965h0M2189 3056h0M1828 2990h0M2141 2992h0M1486 3099h0M2145 2987h0M1472 3093h0M1599 3082h0M1605 3133h0M1493 3129h0M2282 3008h0M2112 2990h0M2059 3278h0M1810 2973h0M1845 2989h0M1636 3089h0M2000 3262h0M2199 2977h0M2194 2942h0M2149 3010h0M1544 3057h0M1827 2946h0M1593 3092h0M2053 3246h0M2041 3287h0M2140 3003h0M1838 2971h0M1850 2976h0M2210 2985h0M1676 2938h0M2093 3155h0M2224 2974h0M1986 2949h0M1516 3084h0M2050 3301h0M2111 2964h0M2149 2983h0M2254 3030h0M1651 3028h0M2260 3024h0M1548 3124h0M2212 2995h0M1574 3049h0M2123 2912h0M1441 3148h0M2191 3000h0M2208 3025h0M1657 3125h0M2187 2982h0M1490 3024h0M2152 3029h0M2181 3040h0M2201 2917h0M2150 3009h0M2044 2988h0M1854 2986h0M1635 3102h0M1604 3052h0M1512 3058h0M1664 3135h0M1825 2964h0M2217 2931h0M2128 2981h0M1510 3104h0M2135 2995h0M2097 2971h0M1589 3020h0M1467 3148h0M1561 3115h0M1466 3030h0M1558 3129h0M1481 3097h0M1648 3163h0M1603 3157h0M1565 3071h0M1592 3082h0M2111 2993h0M1493 3180h0M1575 3075h0M2116 2952h0M1528 3051h0M1642 3023h0M2172 3018h0M1832 2969h0M2075 3233h0M1500 3068h0M1815 2989h0M1557 3100h0M2086 3158h0M2068 2943h0M2225 2978h0M1802 2955h0M2307 2884h0M1539 3107h0M2285 2980h0M1824 2944h0M1504 3055h0M2103 3045h0M2112 2982h0M2115 2968h0M1993 2982h0M2168 3073h0M1580 3055h0M2229 3025h0M2048 3293h0M1540 3053h0"/>
<path stroke="#008000" stroke-opacity="0.8" d="M2263 3001h0M1594 3172h0M1579 3165h0M2049 3259h0M1498 3156h0M1505 3084h0M1652 3039h0M1608 3085h0M1436 3041h0M2208 3073h0M1570 3097h0M2055 3259h0M1542 3002h0M2288 3056h0M1782 2958h0M1801 2961h0M1567 3168h0M1548 3141h0M1608 3069h0M2154 3038h0M1804 3001h0M2196 2991h0M1794 2980h0M2030 3244h0M1583 3142h0M1570 3000h0M2208 2983h0M1623 3102h0M1574 3061h0M2241 2961h0M1559 2999h0M2237 2933h0M1797 2967h0M2146 2971h0M2110 2908h0M2113 2946h0M1664 3106h0M1669 3131h0M1571 2938h0M2042 3272h0M2123 2963h0M2202 3025h0M1552 3111h0M1496 3119h0M2144 3054h0M2161 3018h0M1789 2971h0M1809 2940h0M1805 2947h0M2222 3085h0M2171 2951h0M2147 2985h0M1509 3070h0M2256 2863h0M2043 3263h0M2163 2936h0M2155 3006h0M2136 3001h0M1600 3133h0M2243 3073h0M1824 3000h0M1564 3101h0M2027 3267h0M1579 3096h0M1598 3135h0M2259 3019h0M1584 3065h0M1447 3115h0M1528 3074h0M2143 2979h0M2135 2979h0M2232 2935h0M1629 3134h0M1612 3072h0M1537 3043h0M1805 2974h0M2160 2993h0M2295 2919h0M1547 3051h0M2128 2985h0M2006 3289h0M1683 3138h0M2225 2947h0M2189 3032h0M2259 3000h0M2184 2963h0M2142 2974h0M2144 2983h0M1491 3094h0M1854 2997h0M1554 3069h0M1553 3095h0M2201 3008h0M2188 2994h0M2332 2925h0M1517 3129h0M2119 2996h0M2090 2932h0M1575 3028h0M2141 2993h0M1546 3057h0M1550 3003h0M2160 3067h0M2227 3005h0M1816 2981h0M1786 2970h0M1800 2957h0M2094 2964h0M2214 2984h0M2048 3038h0M2265 2935h0M2171 2993h0M1822 2984h0M2124 3043h0M2019 3259h0M1423 3052h0M2059 3241h0M2128 3010h0M2068 3283h0M2018 3292h0M1632 3073h0M1513 3039h0M2067 2994h0M2187 3043h0M1840 2983h0M1554 3095h0M2141 3014h0M1480 3005h0M1587 3075h0M2063 3065h0M1836 2991h0M1534 3128h0M1578 3074h0M1797 2998h0M1505 3044h0M1459 3102h0M1633 3041h0M1612 3136h0M1828 3002h0M2131 3031h0M1524 3119h0M2139 3004h0M2171 2978h0M2176 2992h0M1581 3110h0M2196 2995h0M2113 2945h0M2188 2950h0M2175 3021h0M1550 3174h0M2117 3000h0M2167 2952h0M2244 3036h0M2152 2989h0M2050 3244h0M1651 2982h0M1481 3059h0M1828 2971h0M1775 2996h0M2114 2975h0M1546 3071h0M2061 3265h0M1813 2995h0M1572 3109h0M1825 2986h0M2139 3029h0M1605 3126h0M1498 3123h0M1847 2965h0M1813 2984h0M2121 2969h0M1652 3053h0M1571 3118h0M2218 2869h0M2230 2993h0M1503 3109h0M1599 3104h0M1801 2987h0M2083 3255h0M1800 2971h0M1481 3138h0M1547 3056h0M1569 3088h0M1493 3090h0M1499 3156h0M2181 2994h0M1656 3045h0M2184 2961h0M1481 3004h0M2218 3089h0M1575 3075h0M1796 2969h0M1585 3070h0M2198 3016h0M1773 2966h0M1481 3101h0M2131 3025h0M2218 3048h0M2081 3036h0M2235 3030h0M1546 3064h0M2166 2994h0M1539 3139h0M1617 3116h0M2146 3044h0M1581 3049h0M1589 3106h0M1848 2982h0M2076 3248h0M2104 2994h0M1766 2984h0M1569 3094h0M2187 2900h0M1599 3108h0M2105 2953h0M1713 3169h0M1578 3082h0M1391 3125h0M1762 2992h0M1535 3149h0M2021 2929h0M1758 2966h0M2259 3036h0M1635 3125h0M2034 3283h0M1516 3004h0M2237 2976h0M2173 3067h0M2181 2953h0M2152 3046h0M2052 3252h0M1805 2964h0M2169 2978h0M2185 2996h0M1666 3130h0M1498 3108h0M1558 3159h0M2210 3018h0M1463 3124h0"/>
<path stroke="#0000ff" stroke-opacity="0.8" d="M1727 2978h0M1801 2949h0M1403 2886h0M2090 2971h0M1561 3056h0M1975 2853h0M2050 2840h0M1942 3193h0M2446 3092h0M1591 3136h0M1520 3061h0M2156 2812h0M1673 3249h0M2156 3041h0M2457 3178h0M2216 2662h0M1651 3068h0M1454 3156h0M2310 3324h0M2022 2777h0M1928 2957h0M2252 2954h0M2185 2940h0M2051 2723h0M1833 3129h0M2235 3112h0M1910 3164h0M1299 3133h0M2508 2945h0M2118 3070h0M1624 3131h0M2160 3000h0M1639 3086h0M2062 3306h0M1771 2982h0M1466 3383h0M1662 3109h0M2307 3050h0M2229 3178h0M2374 2720h0M1756 3184h0M1894 3330h0M2080 3081h0M1456 2880h0M1500 3139h0M2115 2722h0M2497 2845h0M2421 2946h0M2475 2898h0M1470 3282h0M1693 3324h0M2170 2753h0M2095 2883h0M1845 3056h0M1920 2783h0M1588 3018h0M2164 2700h0M1932 2735h0M2207 3277h0M2300 3386h0M2361 3237h0M1610 3076h0M2295 2817h0M1459 3066h0M1565 3078h0M1745 3149h0M1865 3019h0M1751 3073h0M1878 3287h0M2051 3166h0M2359 2795h0M1729 3195h0M2395 2839h0M1895 2849h0M1651 3034h0M1621 3087h0M1573 2733h0M1675 3104h0M1773 2887h0M1690 2937h0M2261 2877h0M2087 2677h0M2188 2979h0M1803 3178h0M2418 2886h0M1365 2927h0M2184 3000h0M1336 3261h0M1308 3031h0M1644 3056h0M2473 2783h0M1936 3257h0M1619 2784h0M1487 3190h0M1496 2978h0M1987 2912h0M2444 2996h0M1938 3044h0M1615 3068h0M1512 3118h0M2278 3014h0M1591 3044h0M1734 3286h0M2194 2960h0M1963 3133h0M1773 3252h0M1986 2881h0M1541 3070h0M2377 3292h0M1683 3273h0M2089 3374h0M2353 3032h0M2128 2962h0M1624 3249h0M2163 2915h0M1569 3032h0M1587 2863h0M1502 3053h0M2228 2758h0M2140 2907h0M2082 2995h0M1529 3101h0M1955 3085h0M2184 3368h0M1615 3105h0M1653 3412h0M1592 3364h0M1468 2830h0"/>
<path stroke="#0000ff" stroke-opacity="0.8" d="M2257 3281h0M2209 2971h0M1821 2761h0M1647 2727h0M1654 3288h0M1517 3125h0M1678 2982h0M2363 3180h0M1561 3261h0M1586 3074h0M2172 3246h0M2088 2767h0M1558 3125h0M1496 3149h0M2300 3252h0M2123 2966h0M1530 3093h0M1682 2782h0M2292 2918h0M1850 2846h0M2436 3235h0M1759 3160h0M1429 3220h0M2415 3361h0M2115 3152h0M1596 2950h0M1819 3241h0M1824 2883h0M1984 3050h0M1599 3308h0M1609 3076h0M1531 3045h0M1475 3095h0M2008 2948h0M2099 3200h0M1547 2775h0M1981 2808h0M1736 3122h0M2367 2955h0M1944 2662h0M1984 2982h0M1597 3034h0M2215 2861h0M1532 3409h0M1485 3032h0M2292 3000h0M1984 3262h0M1513 3068h0M1750 2936h0M1982 3210h0M1531 3065h0M1910 3222h0M1857 2943h0M1593 3428h0M1986 2737h0M1786 3129h0M1563 3057h0M2228 3027h0M2264 3148h0M1376 3214h0M2162 3133h0M1795 3088h0M2131 3064h0M2185 3172h0M1576 3133h0M1952 2886h0M1568 3049h0M1448 2989h0M1588 3042h0M1344 3084h0M2516 3120h0M1464 3110h0M2291 2753h0M1578 3061h0M2110 3023h0M2163 2960h0M1697 3225h0M1484 3076h0M2279 3092h0M2357 3379h0M2416 3041h0M1637 2829h0M2479 3271h0M2038 3433h0M2409 2770h0M1490 3092h0M1625 2896h0M1500 3147h0M1442 3325h0M1514 3060h0M1645 3341h0M2127 2849h0M2026 3232h0M2346 3099h0M1627 3055h0M1575 3123h0M2361 2898h0M1525 3143h0M1519 3082h0M2193 2960h0M2067 3024h0M1549 2924h0M1890 2982h0M1893 2922h0M1572 3072h0M2020 3291h0M1594 3078h0M2001 3371h0M2128 3107h0M1818 2675h0M2412 3133h0M1538 3072h0M1771 3332h0M1904 3114h0M1695 3150h0M1812 2825h0M1840 3321h0M1537 3212h0M1931 3435h0M2239 2999h0M1910 2858h0M1416 2835h0M1521 3097h0M1556 2972h0M2193 3088h0M1558 3154h0M1606 3005h0M2178 3033h0"/>
<path stroke="#0000ff" stroke-opacity="0.8" d="M2144 3338h0M1562 3074h0M1519 2877h0M1646 3174h0M1516 3108h0M2024 3009h0M1539 3062h0M1581 3096h0M2133 3274h0M1870 2748h0M1543 2827h0M1832 3369h0M2080 3247h0M1760 3243h0M2246 3058h0M1891 2704h0M1556 3033h0M1946 2894h0M1298 2952h0M1596 3193h0M2248 3423h0M2506 3215h0M2121 3049h0M1585 3080h0M1716 2817h0M2319 2682h0M2318 2963h0M1768 3034h0M1542 3160h0M1731 2719h0M1406 3019h0M1849 3438h0M1592 3108h0M1768 2762h0M1882 3393h0M1862 3098h0M2239 3066h0M1527 3075h0M1912 2938h0M1621 3083h0M1753 2672h0M1597 3090h0M1386 3358h0M1994 3099h0M2245 3339h0M1689 3077h0M1549 3076h0M1650 3259h0M1670 2880h0M2053 3123h0M1543 3108h0M1498 3240h0M1317 2889h0M1569 3075h0M1388 3136h0M2066 2974h0M2261 2699h0M1812 3006h0M2170 2872h0M1635 3056h0M2021 2871h0M1873 3144h0M1675 2679h0M2106 2960h0M1529 3073h0M1529 2692h0M1500 2927h0M1599 2664h0M1668 3150h0M1535 3309h0M1421 2939h0M1724 3038h0M1863 3196h0M1942 3002h0M1765 2843h0M2327 2863h0M2264 3215h0M1647 2934h0M2269 2985h0M1869 2797h0M1525 3168h0M2170 3062h0M1998 2853h0M1683 3204h0M2210 2812h0M2006 2689h0M1893 3064h0M2147 3430h0M1321 3204h0M1935 3359h0M2096 2933h0M1516 3087h0M2034 3049h0M1615 3111h0M1488 2758h0M1548 3040h0M1807 3287h0M1435 3064h0M1876 2959h0M1548 3108h0M2208 3221h0M1868 3238h0M1727 2879h0M2311 3168h0M1558 3077h0M2199 2907h0M1709 3376h0M1998 3159h0M2048 2935h0M1940 2826h0M1354 2982h0M2092 3001h0M1977 3306h0M2498 3058h0M2093 2817h0M1562 3111h0M2152 3201h0M1871 2886h0M1578 3137h0M1711 3429h0M1407 3277h0M1699 3255h0M1508 3128h0M1766 3396h0M1481 3090h0M2181 3044h0M1615 3077h0M2208 3012h0"/>
<path stroke="#ff0000" stroke-opacity="0.75" d="M3080 3164h0M3218 2871h0M2999 3230h0M3055 3200h0M2974 3208h0M3090 3186h0M3359 2927h0M3252 2907h0M3239 2913h0M3018 3227h0M3344 2911h0M3283 2872h0M3131 3266h0M3050 3194h0M3029 3235h0M3030 3220h0M3033 3176h0M3226 2873h0M3273 2929h0M3123 3181h0M2977 3191h0M2979 3219h0M3336 2886h0M3214 2864h0M3245 2896h0M3211 2903h0M3318 2925h0M3099 3211h0M3507 2861h0M3214 2976h0M3318 2938h0M3145 3204h0M3178 2916h0M3055 3211h0M3052 3223h0M3302 2877h0M2946 3275h0M3212 2884h0M3253 2937h0M3026 3198h0M3168 2877h0M3179 2949h0M3212 2870h0M3496 2871h0M3292 2935h0M3060 3170h0M3038 3158h0M3153 2885h0M2975 3276h0M3052 3292h0M3024 3248h0M3196 2867h0M3367 3151h0M3068 3215h0M3299 2926h0M3180 2927h0M3289 2964h0M3251 2842h0M2979 3177h0M3067 3201h0M3240 2900h0M3113 3222h0M3043 3202h0M3218 2919h0M3290 2903h0M3500 2878h0M3243 2960h0M3222 2873h0M3205 2837h0M3219 2925h0M3384 3168h0M3525 2880h0M3343 3164h0M3218 2890h0M3007 3235h0M3034 3239h0M3227 2876h0M3036 3154h0M3211 2871h0M3051 3204h0M3198 2865h0M3067 3174h0M3034 3310h0M3048 3270h0M3067 3213h0M3499 2874h0M3247 2960h0M3237 2922h0M3010 3181h0M3223 2908h0M3354 3145h0M2990 3141h0M3236 3200h0M2994 3261h0M3144 3272h0M3191 2864h0M3014 3280h0M2996 3221h0M2970 3196h0M3024 3193h0M3154 2954h0M3024 3143h0M3190 2890h0M3338 2923h0M3031 3210h0M3210 2881h0M3314 2826h0M3365 3163h0M3489 2870h0M3366 3153h0M3287 2934h0M3226 2898h0M3109 3227h0M3247 2940h0M3092 3266h0M3220 3310h0M3251 2869h0M3375 3162h0M3303 2874h0M3312 2947h0M3158 3228h0M3220 2866h0M3236 2988h0M3069 3218h0M2969 3310h0M3237 2923h0M3219 3147h0M3030 3234h0M3122 3249h0M3084 3242h0M3268 2921h0M3151 2893h0M3310 2926h0M3065 3189h0M3274 2897h0M3229 2869h0M3018 3252h0M3284 2865h0M3151 2909h0M3127 3181h0M3076 3268h0M3391 3164h0M3007 3312h0M3274 2891h0M3326 2828h0M3365 3159h0M3314 2908h0M3492 2872h0M3051 3316h0M3121 3203h0M3304 2931h0M3346 3167h0M3053 3199h0M3004 3161h0M3255 2899h0M3042 3215h0M3105 3198h0M3170 2823h0M3511 2876h0M3000 3237h0M3025 3151h0M3027 3286h0M2971 3224h0M3017 3234h0M3030 3250h0M2938 3216h0M3009 3282h0M3219 2889h0M3008 3194h0M3136 2919h0M3124 3289h0M3296 2865h0M2954 3233h0M2965 3231h0M3269 2925h0M2994 3210h0M3019 3213h0M2977 3248h0M3061 3252h0M3149 2961h0M3313 2951h0M3181 2894h0M3160 3100h0M2944 3185h0M2980 3184h0M3082 3254h0M3087 3237h0M3238 2902h0M3294 2958h0M3034 3065h0M3083 3216h0M3342 2937h0M3045 3181h0M3107 3215h0M2987 3202h0M3250 2920h0M3240 2925h0M3275 2833h0M3334 2904h0M3247 3219h0"/>
<path stroke="#ff0000" stroke-opacity="0.75" d="M3140 3261h0M3172 3207h0M3515 2863h0M3293 2944h0M3117 3254h0M3294 2914h0M3054 3210h0M3488 2876h0M3025 3273h0M3325 2939h0M3057 3230h0M3216 2901h0M3510 3090h0M3150 3250h0M3510 2862h0M3211 2939h0M3374 3151h0M3246 2955h0M3182 2914h0M3044 3259h0M2987 3211h0M3273 2882h0M3099 3217h0M3219 2885h0M3405 3162h0M3020 3161h0M3397 3139h0M3060 3293h0M3138 2951h0M3208 2905h0M3249 2880h0M2923 3244h0M3142 2828h0M3055 3244h0M3104 3292h0M3224 2836h0M3379 3186h0M3220 2931h0M3158 2916h0M3153 3234h0M3286 2895h0M3189 2910h0M3075 3253h0M3329 2922h0M3182 2884h0M3508 2872h0M3221 2933h0M2995 3271h0M3399 3148h0M3215 2861h0M3058 3309h0M3503 2866h0M3252 2928h0M3099 2835h0M3115 3275h0M3395 3139h0M2965 3198h0M3063 3199h0M2997 3200h0M3045 3203h0M3140 3222h0M3256 2914h0M3072 3187h0M3063 3270h0M3180 2977h0M3218 2925h0M3144 3208h0M3333 3016h0M3123 3327h0M3349 2898h0M3045 3250h0M3081 3231h0M3255 2879h0M3248 2906h0M3412 3159h0M3121 3233h0M3266 2850h0M3202 2894h0M3023 3351h0M3127 3186h0M3207 2833h0M3277 2881h0M3132 3186h0M2900 3232h0M3020 3255h0M3248 2958h0M3397 3140h0M2945 3121h0M3226 2840h0M3046 3241h0M3072 3207h0M3021 3164h0M3250 2883h0M3265 2891h0M3152 2951h0M3070 2790h0M2970 3172h0M3270 2974h0M3238 2969h0M3212 2889h0M2977 3246h0M3227 2941h0M3048 3294h0M3505 2871h0M3125 3292h0M3197 2826h0M3227 2876h0M3046 3290h0M3126 2863h0M3404 3168h0M3104 3293h0M3295 2886h0M3052 3253h0M3122 2968h0M3375 3191h0M3214 2846h0M3520 2859h0M3174 2971h0M3367 3171h0M3113 3142h0M3313 2914h0M3000 3265h0M3047 3206h0M3061 3208h0M3065 3283h0M3178 2878h0M3068 3227h0M3101 3171h0M3221 2900h0M3326 2890h0M3189 2925h0M2942 3242h0M3192 2921h0M3090 3060h0M3250 2844h0M3022 3252h0M3011 3288h0M3098 3177h0M3495 2879h0M3234 2879h0M3134 2948h0M3034 3318h0M3331 2958h0M3014 3183h0M3496 2868h0M3028 3252h0M3038 3225h0M3070 3233h0M2957 3183h0M3102 3246h0M3008 3252h0M3356 3154h0M3273 2923h0M3185 2948h0M3191 2912h0M3320 2946h0M3322 2983h0M3054 3261h0M3170 2893h0M3006 3266h0M3199 2876h0M3173 3225h0M3240 2819h0M3356 3190h0M2989 3221h0M3079 3202h0M3047 3177h0M3253 2944h0M3292 2853h0M3299 2890h0M3035 3250h0M3043 3190h0M3180 2877h0M3079 3272h0M3243 2841h0M2983 3234h0M3225 2917h0M3261 2902h0M3238 2878h0M3183 2924h0M3250 2834h0M2987 3227h0M3321 2914h0M3349 2881h0M3097 3290h0M3499 2856h0M3060 3157h0M3177 2898h0M3301 2882h0M2948 3268h0M3044 3252h0M3271 2913h0M3518 2869h0M3035 3236h0M3161 2908h0M3400 3169h0M2993 3315h0M3208 2835h0M3189 2826h0M3254 2863h0"/>
<path stroke="#ff0000" stroke-opacity="0.75" d="M3300 2916h0M3100 3179h0M3056 3330h0M2934 3171h0M3376 3184h0M3086 3188h0M3211 2915h0M2918 3252h0M2944 3169h0M2979 3167h0M3492 2870h0M3034 3205h0M3321 2851h0M3268 2948h0M2993 3229h0M3173 2881h0M3026 3233h0M3205 2852h0M3011 3216h0M3091 3208h0M2984 3149h0M3232 2886h0M3192 2857h0M3244 2935h0M3238 2810h0M3107 3293h0M3229 2883h0M3170 2879h0M3207 2833h0M3180 2960h0M3242 2916h0M3164 2905h0M3259 2868h0M3003 3210h0M3086 3226h0M3129 3256h0M3305 2875h0M2953 3351h0M3350 3170h0M2913 3238h0M2999 3282h0M3031 3289h0M3490 2879h0M3047 3247h0M3050 3218h0M3493 2864h0M2919 3221h0M3221 2886h0M3238 2934h0M3046 3269h0M3057 3170h0M3264 2833h0M3390 2830h0M3211 2826h0M3019 3215h0M3259 2946h0M3241 2851h0M3367 2812h0M2997 3276h0M3498 2858h0M3331 2913h0M3347 3187h0M2946 3285h0M3295 2867h0M3374 3144h0M3205 2876h0M3167 2930h0M3086 3251h0M3272 2913h0M3266 2891h0M3088 3185h0M3485 2873h0M3278 2911h0M3187 2893h0M2905 3204h0M3267 2965h0M3233 2858h0M3073 3209h0M2992 3211h0M3053 3218h0M2985 3213h0M3238 2896h0M2995 3169h0M3316 2935h0M3247 2867h0M3374 3146h0M3255 2934h0M3301 2919h0M3379 3196h0M3116 3243h0M3038 3377h0M3205 2855h0M3249 3015h0M3305 2866h0M3194 2949h0M2984 3242h0M3258 2895h0M3060 3192h0M3083 3234h0M3267 2937h0M3015 3251h0M3292 2937h0M3352 3187h0M3194 2890h0M3272 2837h0M3119 3218h0M3076 3227h0M3055 3258h0M2916 3222h0M3106 3250h0M3069 3189h0M3224 2832h0M3201 2896h0M3064 3194h0M3136 3206h0M3230 2976h0M3116 3221h0M3208 2836h0M3227 2918h0M3216 2892h0M2962 3224h0M2969 3254h0M3289 2837h0M3044 3355h0M3266 2978h0M2949 3184h0M3003 3262h0M3342 3181h0M3031 3226h0M2956 3201h0M3192 2970h0M2948 3254h0M3265 2872h0M3203 2892h0M3289 2944h0M3032 3248h0M3228 2864h0M3133 3282h0M3331 2846h0M3308 2966h0M3032 3294h0M3190 2922h0M3180 2974h0M3116 3240h0M3141 3203h0M2994 3361h0M3263 2893h0M3308 2957h0M3212 2864h0M2985 3200h0M3168 2882h0M3140 3268h0M3399 2874h0M3064 3268h0M3373 3150h0M3246 2950h0M3203 2913h0M3258 2899h0M2947 3170h0M3021 3277h0M2974 3237h0M3017 3300h0M3134 3281h0M3361 3152h0M3228 2897h0M3392 3143h0M3000 3325h0M2935 3230h0M3425 2972h0M3029 3232h0M3217 2932h0M3303 2850h0M3430 3120h0M3239 2935h0M3138 2874h0M3263 2860h0M3017 3250h0M3072 3135h0M3274 2812h0M3102 3212h0M3371 3156h0M3370 3162h0M3218 2914h0M3513 2873h0M2983 3262h0M3243 2861h0M2972 3291h0M3059 3194h0M3047 3189h0M3279 2964h0M3024 3196h0M3377 3146h0M3030 3233h0M2997 3242h0M3108 3287h0M3100 3234h0M3278 2945h0M3033 3230h0M3112 3201h0M3275 2843h0"/>
<path stroke="#008000" stroke-opacity="0.8" d="M3472 2952h0M2830 3073h0M3092 2976h0M2824 3126h0M3319 3274h0M3473 2993h0M3308 3274h0M3427 2983h0M2828 3127h0M3446 3007h0M2896 3085h0M3093 2986h0M3537 3109h0M3484 2984h0M3446 2994h0M3510 2952h0M3479 2920h0M3473 3082h0M3161 2990h0M3434 3122h0M3487 3060h0M3302 3275h0M3295 3281h0M2865 3064h0M3114 2970h0M2752 3073h0M3398 2946h0M2861 3130h0M2865 3138h0M3097 2995h0M2940 3083h0M2937 3213h0M3526 2961h0M3102 2983h0M3472 3100h0M2945 3064h0M3476 2944h0M2832 3089h0M2997 3095h0M3553 2981h0M3415 3016h0M2844 3027h0M2911 3107h0M2802 3164h0M3600 2975h0M3515 2993h0M3492 3050h0M2866 3107h0M2919 3115h0M2868 3132h0M3321 3329h0M3460 3020h0M3442 3020h0M3340 3310h0M3464 2959h0M3423 3032h0M3579 3042h0M3423 3023h0M2784 3080h0M3485 3003h0M2901 3078h0M2911 3139h0M2848 3138h0M2841 3144h0M2864 3064h0M3430 3014h0M2901 3108h0M2981 3144h0M3438 2965h0M2964 3126h0M3475 2947h0M2788 3062h0M3102 2965h0M2769 3143h0M3440 3023h0M2861 3045h0M2923 3071h0M2906 3122h0M3102 2968h0M3478 2962h0M2932 3088h0M2834 3126h0M2877 3073h0M3487 3041h0M2837 3013h0M2827 3065h0M3416 3126h0M2805 3063h0M3500 3069h0M3517 2995h0M2813 3080h0M3440 2955h0M2784 3034h0M3345 3081h0M3095 2974h0M2798 3040h0M3300 3289h0M3650 2995h0M2907 3075h0M3456 2900h0M3297 3318h0M3413 3018h0M2854 3093h0M3451 2926h0M3494 3089h0M3439 2976h0M3471 3038h0M3534 3064h0M3420 3026h0M3377 3047h0M3420 3065h0M2841 3103h0M2863 3069h0M3071 2988h0M3494 3029h0M3505 2985h0M2865 3109h0M3409 2862h0M2837 3089h0M3456 2993h0M3356 3307h0M3557 2983h0M3369 2948h0M3455 3024h0M3502 2991h0M3302 3276h0M2854 3099h0M2846 3041h0M2837 3080h0M2824 3130h0M3522 2981h0M3459 3070h0M2816 3105h0M3520 2988h0M3422 3048h0M2903 3067h0M3287 3292h0M3404 3012h0M3420 2999h0M3502 3009h0M3114 2947h0M3421 3024h0M3524 2979h0M3514 2971h0M2867 3165h0M3362 3137h0M3497 3013h0M3128 2957h0M3423 3016h0M3473 2976h0M2907 3143h0M3450 2958h0M2870 2960h0M2802 3152h0M3350 3287h0M2863 3101h0M3438 3015h0M3437 3046h0M2859 3061h0M3472 3041h0M3481 2966h0M3125 2964h0M2811 3157h0M3372 3166h0M3353 3269h0M3476 2967h0M2876 3076h0M3527 3111h0M3449 2930h0M2793 3134h0M3440 2900h0M3078 2981h0M2867 3082h0M3511 3017h0M3492 3055h0M3345 2956h0M3123 2968h0M2810 2992h0M2879 3126h0M3112 2973h0M3372 3020h0M2953 3163h0M2820 2970h0M3483 2986h0M3482 2999h0M2880 3066h0M2878 3076h0M3475 2973h0M2821 3138h0M2782 3096h0M3076 2979h0M2853 3146h0M3447 2998h0M3125 2964h0M3136 2961h0M3431 2979h0M2861 3182h0M2804 3154h0M2914 3100h0M3327 3273h0M3123 2972h0M2817 3145h0M2856 2989h0M3421 2916h0M3471 3023h0M3446 3046h0M3534 3038h0M3088 3000h0M2804 3118h0M3475 2877h0M2879 3074h0M3425 2995h0M2788 3133h0M2787 3165h0M3454 2976h0M2776 3106h0M3336 3258h0M2878 3199h0M3419 3013h0M3460 2922h0M3576 2986h0M3395 2964h0M3362 2998h0M3456 2997h0M3446 2999h0M3582 3025h0M3506 2991h0M3474 3024h0M3421 3034h0M3496 2952h0M3467 2963h0M3437 2993h0M2893 3049h0M3468 3038h0M3513 3062h0M3427 2971h0M3481 3054h0M3394 3072h0"/>
<path stroke="#008000" stroke-opacity="0.8" d="M3094 2960h0M3144 2967h0M3506 3104h0M2816 3096h0M3453 2961h0M3438 2993h0M3078 3007h0M3470 3031h0M2848 3137h0M3110 2986h0M2853 3142h0M3597 2990h0M2812 3019h0M2753 3080h0M3444 2998h0M2872 3147h0M3547 3075h0M2877 3081h0M2791 3087h0M2867 3176h0M3456 3011h0M3505 3050h0M2918 3131h0M3369 2978h0M2917 3071h0M3096 2977h0M2886 3043h0M3449 3027h0M2873 3109h0M2850 3097h0M3454 2957h0M3379 3033h0M2855 3142h0M2941 3067h0M3580 3040h0M2873 3160h0M3420 3027h0M2900 2980h0M3513 3010h0M2822 3138h0M3424 3020h0M3423 2940h0M3407 3065h0M2811 3112h0M3533 3025h0M3403 2919h0M3082 2951h0M2949 3088h0M3453 3022h0M2936 3151h0M3082 2971h0M3393 2967h0M3452 3042h0M3429 3036h0M3535 3047h0M2910 3050h0M3538 2977h0M3365 3016h0M3106 3000h0M2923 3101h0M3441 3067h0M3072 2982h0M3350 3293h0M3428 3018h0M3412 2999h0M3417 2992h0M2918 3114h0M3527 2945h0M3376 3018h0M2890 3048h0M2889 3089h0M2838 3140h0M3116 2978h0M3516 2992h0M3128 2969h0M3502 3022h0M2832 3077h0M2897 3132h0M2839 3096h0M3106 2981h0M3354 2966h0M3129 2963h0M2836 3080h0M2906 3061h0M3454 2978h0M2783 3122h0M3295 3256h0M3310 3251h0M3419 2938h0M3113 3003h0M2822 3094h0M3396 2955h0M2846 3054h0M2740 3154h0M2885 3057h0M3434 3049h0M2798 3067h0M3110 2984h0M3405 2976h0M3119 2960h0M3422 3003h0M3480 2990h0M3127 2989h0M3114 2966h0M3112 2980h0M2815 3143h0M3364 2978h0M3493 2997h0M2923 3083h0M2977 3143h0M3649 3060h0M2915 3099h0M2897 3102h0M2778 3095h0M3452 2988h0M2896 3098h0M3413 3055h0M2839 3032h0M3318 3263h0M3418 3026h0M3523 3043h0M2923 3084h0M2852 3070h0M3339 3289h0M2912 3083h0M3463 3032h0M2781 3128h0M3369 3132h0M3423 2997h0M3440 2972h0M3572 3025h0M2843 3121h0M2867 3101h0M3140 2990h0M3417 3045h0M2869 3113h0M2899 3139h0M3417 3037h0M3490 2869h0M2822 3105h0M3441 2967h0M3116 2998h0M3093 2973h0M3101 2962h0M3094 2987h0M3498 3068h0M3492 3016h0M3111 2968h0M2799 3100h0M2877 3151h0M3411 3081h0M2871 3138h0M3412 2930h0M2892 3194h0M2891 3145h0M3417 2954h0M3115 2959h0M2856 3055h0M2827 3109h0M2846 3079h0M2791 3097h0M3503 2996h0M3295 3295h0M2832 3129h0M3430 3011h0M3517 2956h0M3544 3033h0M2914 3116h0M3472 2993h0M3437 3037h0M2902 3069h0M3541 3030h0M3303 3017h0M3482 3016h0M3476 3057h0M3098 2976h0M2812 3053h0M3446 2954h0M3471 2985h0M2922 3128h0M2900 3145h0M3467 2985h0M3411 2985h0M2916 3179h0M3143 2986h0M3395 2997h0M3112 2971h0M3469 2977h0M3466 2944h0M3110 2978h0M2901 3122h0M2732 3140h0M2863 3078h0M2823 3148h0M2776 3073h0M3142 2998h0M3394 3059h0M3541 3000h0M2871 3085h0M3444 2984h0M2810 3090h0M2892 3123h0M2813 3139h0M2798 3133h0M3409 3014h0M3462 2981h0M3086 2966h0M3418 2959h0M3497 2946h0M3117 2974h0M3377 3165h0M2969 3098h0M3414 3044h0M3435 2982h0M3471 2973h0M3132 2974h0M2846 3072h0M3300 3294h0M3128 2985h0M3088 2940h0M3324 3281h0M3507 3000h0M2859 3122h0M2810 3136h0M3460 3024h0M2830 3084h0M2994 3116h0M3156 2984h0M2885 3061h0M2858 3019h0M2837 3114h0M3146 2973h0M2828 3067h0M2917 3146h0M3505 2973h0M3114 2946h0M3449 3041h0M3091 2960h0"/>
<path stroke="#008000" stroke-opacity="0.8" d="M3507 2969h0M3500 3002h0M2893 3055h0M3104 2983h0M2938 3118h0M3423 3014h0M3402 2989h0M2786 3115h0M2935 3083h0M2865 3073h0M2816 3059h0M3478 2970h0M3620 2950h0M3494 3055h0M3417 2944h0M3481 3050h0M2874 3089h0M3494 3012h0M3494 3032h0M3137 2991h0M3123 2978h0M3126 2995h0M3456 3072h0M3439 2948h0M2872 3157h0M3519 2967h0M3396 3059h0M3400 3127h0M3496 3000h0M3373 3050h0M2841 3094h0M3112 2954h0M3117 2980h0M3434 3067h0M3417 3059h0M2829 3120h0M3500 3042h0M3457 3015h0M2850 3103h0M2857 3103h0M2924 3133h0M2846 3145h0M3307 3264h0M3403 2999h0M2879 3094h0M3086 2982h0M3363 3031h0M2879 3152h0M2824 3139h0M2903 3138h0M2787 3159h0M3467 2984h0M2784 3041h0M2921 3088h0M2785 2998h0M3332 3289h0M2960 3030h0M2853 3050h0M3517 2938h0M2892 3186h0M2825 3098h0M3549 3019h0M3524 3093h0M2896 3133h0M3407 2948h0M3409 2964h0M3109 2957h0M3518 3013h0M3000 3160h0M2917 3086h0M2910 3099h0M2778 3113h0M2938 3151h0M3534 3030h0M3125 2949h0M3496 3009h0M2925 3111h0M3458 3020h0M2796 3093h0M3362 3260h0M2771 3100h0M2806 3103h0M2796 3134h0M3159 2966h0M3406 2997h0M2904 3141h0M2889 3088h0M2760 3089h0M3422 3031h0M3483 3048h0M3536 3000h0M3463 3065h0M3448 2996h0M2841 3111h0M3125 2983h0M2948 3124h0M3476 2989h0M2932 3135h0M3078 2967h0M2861 3097h0M2759 3115h0M2934 3109h0M3430 3001h0M3601 2998h0M3458 2984h0M3108 2980h0M3506 2953h0M2818 3148h0M2887 3169h0M2802 3080h0M3157 2986h0M3327 3290h0M3487 2999h0M3334 3290h0M3421 2932h0M2852 3012h0M3505 2999h0M3423 2967h0M3465 3033h0M3383 3035h0M3307 3290h0M3399 3010h0M2911 3101h0M3376 3040h0M2802 3015h0M3117 2971h0M3366 3023h0M3533 2987h0M2879 3138h0M2937 3075h0M2846 3054h0M3389 2937h0M3507 3014h0M3550 2953h0M3422 3018h0M2881 3073h0M3400 2943h0M3293 3305h0M3510 3039h0M2845 3076h0M2794 3159h0M2932 3154h0M3505 3041h0M3098 2957h0M3345 3014h0M3121 2942h0M3461 2997h0M3411 3014h0M3372 3167h0M3587 3002h0M3497 2990h0M2921 3070h0M3400 2986h0M2914 3146h0M2860 3149h0M3432 3006h0M3478 2981h0M2947 3064h0M3505 2968h0M2861 3093h0M2807 3079h0M2820 3039h0M2855 3133h0M3482 3088h0M3494 2972h0M3305 3319h0M2842 3123h0M3569 2868h0M3465 2940h0M3106 2985h0M2811 3084h0M2767 3081h0M3362 3033h0M2821 3070h0M3321 3286h0M3151 2974h0M3076 2960h0M2990 3077h0M3405 2973h0M3400 2973h0M2742 3102h0M2774 3099h0M3456 2986h0M3433 3080h0M3106 2942h0M3323 3311h0M3329 2934h0M2889 3160h0M2847 3119h0M3337 3013h0M2951 3094h0M3500 3072h0M3463 2983h0M3442 3009h0M2922 3021h0M3325 3282h0M3512 2991h0M3439 3019h0M3433 2921h0M2804 3101h0M3414 3019h0M3341 3264h0M3464 2945h0M3530 2988h0M2930 3113h0M2828 3077h0M3375 3166h0M3523 2987h0M3462 2988h0M2896 3161h0M2807 3140h0M3315 3285h0M3511 3049h0M3125 2990h0M2838 3111h0M2964 3123h0M3435 3008h0M3135 2955h0M3464 2984h0M2850 3063h0M2875 3072h0M2760 3096h0M3308 3296h0M3476 3003h0M3002 3143h0M3490 3029h0M2954 3070h0M3414 3003h0M2895 3095h0M3096 2958h0M2872 3019h0M2813 3057h0M2917 3153h0M3326 3285h0M2882 3092h0M2871 3144h0M2819 3055h0M3376 2993h0"/>
<path stroke="#0000ff" stroke-opacity="0.8" d="M3281 3160h0M3536 2986h0M3274 3227h0M3349 3214h0M3427 3163h0M3266 3124h0M3524 2990h0M3081 2927h0M3251 3031h0M3161 3182h0M3013 2996h0M2986 2977h0M2996 2942h0M2992 2923h0M3054 2973h0M3398 3211h0M2812 2873h0M3086 2899h0M3128 2928h0M3370 3127h0M3077 2931h0M3168 2986h0M2966 2976h0M3068 2917h0M2986 2954h0M3310 3235h0M3076 2953h0M3400 3161h0M3369 3236h0M3310 3205h0M3305 3172h0M3026 2890h0M3314 3207h0M3005 2975h0M3389 3191h0M3065 2956h0M3104 2959h0M3016 2931h0M3418 3229h0M3329 3194h0M3367 3193h0M3109 2998h0M3013 2925h0M3308 3198h0M3061 2938h0M3398 3155h0M3264 3183h0M3273 3246h0M3069 2894h0M3033 2917h0M3299 3168h0M3073 2943h0M3269 3198h0M3244 3184h0M3039 3144h0M3389 3197h0M3019 2904h0M3074 2996h0M3091 2966h0M3056 2991h0M3351 3205h0M3063 2894h0M3517 2973h0M2816 2880h0M3136 3176h0M3122 2933h0M3298 3200h0M3376 3218h0M3340 3223h0M3157 2953h0M3160 2961h0M3158 3044h0M3383 3220h0M3294 3253h0M3295 3194h0M3087 2961h0M3172 2967h0M3341 3186h0M3104 3045h0M3114 3012h0M3162 3065h0M3061 3008h0M3124 2989h0M3057 2901h0M3069 2926h0M3325 3240h0M3376 3211h0M2951 2974h0M3338 3191h0M3524 2993h0M3019 2956h0M2984 2897h0M3340 3180h0M3001 2954h0M3527 3006h0M3362 3213h0M3000 2879h0M3119 2917h0M3394 3269h0M3408 3176h0M3191 3209h0M3068 2961h0M3306 3253h0M3158 2946h0M3377 3160h0M3106 2903h0M3057 2913h0M2805 2883h0M3277 3169h0M3175 3129h0M3448 3209h0M3011 2934h0M3107 2934h0M3327 3140h0M2974 2874h0M3155 3186h0M2820 2881h0M3059 2957h0M2810 2881h0M3311 3217h0M3054 2920h0M3534 3010h0M3261 3158h0M3393 3279h0M3156 2939h0M3370 3166h0M3514 3004h0M3271 3083h0M3323 3212h0M2935 3100h0M3064 2971h0M3134 3067h0M3386 3158h0M3403 3199h0M3290 3200h0M3331 3145h0M3371 3179h0M3265 3023h0M3038 2950h0M3044 2941h0M3323 3228h0M3410 3192h0M3074 2929h0M3057 2938h0M3047 2969h0M3038 2917h0M3185 2931h0M3019 2960h0M3188 3101h0M3296 3148h0M3040 2971h0M3365 3214h0M3545 2996h0M3432 3178h0M3363 3138h0M3089 2921h0M3406 3163h0M3358 3180h0M3167 2902h0M3137 2883h0M3167 3099h0M3304 3228h0M3336 3182h0M2973 2959h0M3068 3162h0M3106 2959h0M3146 2947h0M3349 3241h0M3124 2995h0M3385 3178h0M3026 2942h0M2950 2911h0M3418 3211h0M3102 2920h0M3370 3180h0M3187 3049h0M3033 2940h0M3260 3203h0M3010 2943h0M3053 3169h0M3076 2927h0M3255 3214h0M3305 3190h0M3394 3226h0M3325 3175h0M3284 3089h0M3077 2961h0M3520 2996h0M3296 3220h0M2805 2868h0M3106 2968h0M3116 3208h0M3542 3004h0M2999 2880h0M3550 2970h0M3244 3176h0M3170 2973h0M3284 3224h0M3364 3194h0M3064 3021h0M3161 3176h0M2977 2959h0M2812 2876h0M3534 2994h0"/>
<path stroke="#0000ff" stroke-opacity="0.8" d="M3075 3179h0M3137 2914h0M3506 2993h0M2807 2876h0M3442 3204h0M3272 3080h0M3131 2949h0M3416 3224h0M3369 3192h0M2822 2880h0M3333 3251h0M3121 3194h0M2824 2887h0M3090 2903h0M3320 3216h0M3133 2989h0M3048 2869h0M3057 2974h0M3071 2899h0M3070 3155h0M3105 2947h0M3363 3176h0M2961 2940h0M3355 3218h0M2970 2950h0M3536 3001h0M3100 3070h0M3106 3191h0M3271 3116h0M3531 2985h0M3268 3195h0M3030 2972h0M3337 3253h0M3517 2974h0M3270 3176h0M2974 2915h0M3280 3179h0M3398 3180h0M3304 3217h0M3316 3224h0M3042 2925h0M3311 3256h0M2992 3006h0M3386 3199h0M3527 2981h0M3156 2966h0M3530 2983h0M3336 3211h0M3053 2941h0M3090 2935h0M3131 3081h0M3408 3177h0M3307 3213h0M3111 3174h0M3312 3192h0M3387 3168h0M3362 3155h0M3082 2933h0M3277 3153h0M3089 2893h0M3337 3222h0M3426 3242h0M3034 2877h0M3189 3187h0M3128 3081h0M3091 2952h0M3265 3262h0M3415 3202h0M3423 3217h0M2984 2948h0M3356 3201h0M3442 3183h0M3341 3185h0M3368 3193h0M3187 2932h0M3077 3159h0M2955 2926h0M3016 2921h0M3084 2960h0M3089 3001h0M3506 3008h0M3427 3181h0M3341 3202h0M3267 3195h0M3521 3003h0M3061 2987h0M3103 2974h0M3080 2944h0M3120 2932h0M3381 3254h0M3361 3275h0M3120 2978h0M3067 2910h0M3355 3123h0M3157 2976h0M2799 2884h0M3243 3233h0M3535 2989h0M3180 2960h0M3095 2991h0M3249 3185h0M3303 3231h0M3347 3230h0M3010 2934h0M3196 3190h0M2934 3076h0M3310 3178h0M3337 3203h0M3330 3163h0M3116 2979h0M2990 2961h0M3114 3163h0M2984 2880h0M3047 2927h0M3190 3198h0M3141 3045h0M3406 3229h0M3374 3148h0M3381 3277h0M3100 2956h0M3065 2968h0M2812 2875h0M2800 2880h0M3170 2973h0M3510 3013h0M3072 2895h0M3299 3125h0M3550 2969h0M3543 2999h0M3232 3195h0M2956 2951h0M3106 2910h0M3344 3250h0M3085 3177h0M3364 3152h0M2990 2908h0M3343 3263h0M3441 3221h0M3052 2970h0M3065 3098h0M3304 3251h0M3061 2911h0M3213 3119h0M3332 3192h0M3347 3195h0M3064 2983h0M3371 3174h0M3320 3142h0M3135 3016h0M3340 3117h0M3089 3014h0M2980 2941h0M3359 3210h0M3098 2897h0M2825 2868h0M3001 2976h0M2811 2868h0M3310 3212h0M2970 2938h0M3150 2950h0M2983 2934h0M3280 3129h0M3369 3176h0M2938 3081h0M3094 2953h0M3417 3140h0M3385 3163h0M3411 3211h0M3067 2953h0M3315 3224h0M2818 2887h0M3131 2949h0M3109 2965h0M3048 2936h0M3320 3222h0M3422 3225h0M3090 2902h0M3537 2986h0M3030 2956h0M2953 2949h0M3173 3082h0M3385 3225h0M3131 2877h0M3099 2918h0M3035 2975h0M2954 3105h0M3344 3231h0M3031 2900h0M2820 2873h0M3343 3233h0M3375 3160h0M3311 3185h0M3546 3001h0M3006 2955h0M3400 3227h0M3438 3247h0M3326 3181h0M3053 2970h0M3025 2934h0M3346 3185h0M3011 2902h0M3225 3203h0M3043 3020h0"/>
<path stroke="#0000ff" stroke-opacity="0.8" d="M3532 2996h0M3362 3205h0M3525 3015h0M2992 2992h0M3148 3138h0M3064 2928h0M3031 2996h0M3113 2933h0M2975 2892h0M3399 3184h0M3195 3053h0M3347 3198h0M3125 2946h0M2826 2864h0M3377 3185h0M3008 3133h0M2998 2919h0M3135 2934h0M3008 3151h0M3050 2922h0M3517 3012h0M3324 3153h0M3348 3238h0M3359 3211h0M3336 3162h0M3366 3160h0M3548 2985h0M3292 3173h0M3030 2947h0M2976 2893h0M3163 3202h0M3012 2977h0M3141 2993h0M2819 2883h0M3209 3197h0M3080 3112h0M3070 2938h0M3155 2992h0M3006 3139h0M3106 2883h0M3429 3260h0M3028 2924h0M3168 2936h0M3053 3001h0M3308 3201h0M3379 3266h0M3021 2990h0M3100 2934h0M3036 2898h0M3000 2907h0M3540 2997h0M2995 2906h0M3210 3125h0M3414 3246h0M3333 3241h0M3344 3236h0M3115 2870h0M2954 2914h0M3545 3001h0M3046 2936h0M3322 3226h0M2806 2880h0M3328 3139h0M3208 3086h0M3084 2938h0M3450 3194h0M3039 2934h0M3297 3202h0M3113 2955h0M3120 2963h0M3134 2927h0M3131 2976h0M3423 3217h0M3108 2905h0M3513 2988h0M2982 2923h0M3363 3284h0M3307 3197h0M3544 2980h0M3098 2921h0M3128 2951h0M3162 3084h0M2956 3095h0M3088 2929h0M3060 2958h0M3083 2908h0M3347 3224h0M3340 3191h0M3071 2948h0M3294 3210h0M3226 3227h0M3007 2936h0M3060 2865h0M3366 3212h0M3315 3286h0M3535 3003h0M3013 2901h0M3291 3168h0M3119 2978h0M3089 3126h0M3050 2983h0M3457 3198h0M3027 2951h0M2808 2880h0M3038 2891h0M3400 3262h0M3339 3217h0M3362 3234h0M3032 3150h0M3391 3176h0M3054 2905h0M3281 3235h0M3427 3217h0M3347 3233h0M2941 2892h0M2956 2934h0M2990 3120h0M3342 3197h0M3332 3214h0M3009 3020h0M3312 3236h0M3071 2958h0M3341 3201h0M3032 3018h0M3368 3195h0M3008 2934h0M3379 3227h0M3359 3197h0M2940 2948h0M3360 3187h0M3295 3123h0M3335 3230h0M2800 2875h0M3279 3172h0M3302 3165h0M3404 3209h0M3273 3165h0M3259 3225h0M3084 2912h0M3046 2887h0M3187 3216h0M3033 2877h0M3138 3020h0M3177 2942h0M3089 2965h0M2994 2887h0M3036 2892h0M3016 2890h0M3332 3168h0M3117 2916h0M3296 3192h0M3341 3180h0M3024 2953h0M3129 3044h0M3204 3054h0M2924 3080h0M3358 3250h0M3154 2924h0M3433 3246h0M3430 3194h0M3014 3134h0M3305 3217h0M2985 3111h0M3296 3205h0M3314 3221h0M3407 3262h0M3321 3263h0M3284 3198h0M3545 2990h0M3318 3196h0M3116 2945h0M3140 3084h0M3018 2953h0M3540 2994h0M3072 3175h0M3548 3004h0M3117 2973h0M2974 2941h0M3102 2992h0M3165 2987h0M2831 2877h0M3279 3248h0M3075 2956h0M3554 2988h0M3076 3157h0M3139 3007h0M2808 2869h0M3508 2990h0M3215 3151h0M3373 3231h0M3049 2898h0M3033 2936h0M3139 2920h0M3308 3182h0M2978 3116h0M3367 3196h0M3142 2953h0M3237 3105h0M3343 3252h0M3269 3168h0M3005 3130h0M3345 3164h0M2810 2872h0"/>
<path stroke="#ff0000" stroke-opacity="0.75" d="M4311 3229h0M4378 2886h0M4533 2890h0M4549 2937h0M4457 2878h0M4548 2915h0M4424 2903h0M4312 3237h0M4496 2904h0M4434 2958h0M4282 3231h0M4514 2864h0M4309 3166h0M4340 3266h0M4562 2830h0M4390 2856h0M4402 2928h0M4372 3233h0M4528 2867h0M4511 2899h0M4327 3211h0M4313 3182h0M4655 3131h0M4355 3169h0M4105 3157h0M4258 3165h0M4475 2936h0M4470 2913h0M4548 2860h0M4591 2963h0M4325 3208h0M4507 2904h0M4369 3270h0M4302 3279h0M4341 3265h0M4400 2921h0M4435 2911h0M4496 2898h0M4376 3232h0M4301 3248h0M4342 3299h0M4330 3230h0M4309 3209h0M4298 3207h0M4309 2831h0M4680 3145h0M4509 2837h0M4365 3187h0M4459 3257h0M4476 2875h0M4273 3203h0M4270 3154h0M4508 2895h0M4456 2928h0M4447 2881h0M4231 3125h0M4470 2903h0M4490 2959h0M4511 2841h0M4382 3171h0M4324 3138h0M4489 2969h0M4458 3166h0M4551 2984h0M4346 3206h0M4437 2886h0M4369 3249h0M4399 3233h0M4461 3192h0M4515 2954h0M4459 2878h0M4478 2907h0M4429 2887h0M4376 3299h0M4598 2887h0M4435 2921h0M4421 2886h0M4637 3177h0M4661 3165h0M4190 3182h0M4657 3152h0M4667 3177h0M4546 2958h0M4452 2888h0M4293 3230h0M4494 2904h0M4208 3209h0M4516 2882h0M4349 3219h0M4559 2954h0M4503 2939h0M4363 3331h0M4256 3168h0M4324 3240h0M4257 3239h0M4550 3300h0M4174 3212h0M4431 3283h0M4135 3196h0M4241 3150h0M4860 3120h0M4658 3146h0M4283 3205h0M4282 3225h0M4786 2863h0M4584 2918h0M4513 2927h0M4471 2950h0M4644 3164h0M4384 3243h0M4460 2930h0M4489 2849h0M4334 3158h0M4489 2895h0M4523 2980h0M4395 3156h0M4558 2927h0M4474 2938h0M4471 3321h0M4452 3299h0M4316 2947h0M4341 3188h0M4786 2850h0M4380 3155h0M4296 3193h0M4370 3197h0M4576 2914h0M4790 2866h0M4541 2876h0M4418 2997h0M4477 2918h0M4505 2846h0M4326 3190h0M4414 3254h0M4315 3198h0M4359 3261h0M4332 3220h0M4799 2876h0M4483 2936h0M4244 3218h0M4559 2922h0M4489 2904h0M4506 2876h0M4788 2861h0M4374 3176h0M4337 3157h0M4391 3200h0M4438 3012h0M4374 3209h0M4551 2927h0M4449 2966h0M4214 3198h0M4420 2919h0M4316 3252h0M4337 3159h0M4466 2928h0M4283 3248h0M4476 2903h0M4543 2930h0M4642 3155h0M4576 2903h0M4376 3152h0M4551 2982h0M4481 2926h0M4685 3165h0M4656 3144h0M4492 3191h0M4465 3245h0M4498 2906h0M4365 3185h0M4347 3241h0M4788 2874h0M4433 2909h0M4431 2895h0M4435 2892h0M4560 2892h0M4318 3179h0M4253 3159h0M4104 3182h0M4513 2952h0M4407 3198h0M4660 3181h0M4235 3163h0M4367 3236h0M4657 3138h0M4353 3126h0M4475 2936h0M4774 2856h0M4324 3146h0M4301 3276h0M4663 3146h0M4525 2948h0M4567 2881h0M4273 3200h0"/>
<path stroke="#ff0000" stroke-opacity="0.75" d="M4648 3132h0M4508 2843h0M4646 3171h0M4790 2859h0M4467 2880h0M4338 3217h0M4378 3236h0M4497 2920h0M4399 3159h0M4527 2880h0M4516 2885h0M4389 3107h0M4241 3138h0M4366 3279h0M4506 2946h0M4236 3204h0M4616 2972h0M4402 2954h0M4410 3358h0M4542 2866h0M4488 2898h0M4273 3174h0M4355 3260h0M4326 3133h0M4353 3270h0M4361 3217h0M4450 2927h0M4700 2860h0M4796 2862h0M4352 3215h0M4273 3139h0M4342 3237h0M4239 3155h0M4796 2853h0M4444 2943h0M4465 2922h0M4531 2899h0M4367 3294h0M4549 2966h0M4374 3135h0M4322 3197h0M4398 3187h0M4525 2878h0M4500 3090h0M4575 2909h0M4465 2875h0M4350 3166h0M4341 3256h0M4419 2864h0M4212 3117h0M4663 3157h0M4378 3284h0M4661 3145h0M4579 2915h0M4411 2867h0M4462 2860h0M4614 2926h0M4466 2871h0M4428 3143h0M4650 3122h0M4500 2954h0M4160 3279h0M4372 3302h0M4481 2892h0M4133 3184h0M4405 3173h0M4453 2898h0M4505 2897h0M4394 3206h0M4261 3207h0M4493 2852h0M4618 3178h0M4679 2838h0M4524 2824h0M4400 3179h0M4515 2900h0M4407 3214h0M4492 2926h0M4487 2917h0M4548 2857h0M4413 2833h0M4457 2908h0M4332 3239h0M4521 2928h0M4295 3166h0M4407 2824h0M4563 2870h0M4271 3216h0M4508 2854h0M4386 2860h0M4346 3223h0M4497 2893h0M4381 3324h0M4358 3278h0M4507 2917h0M4419 2850h0M4356 3191h0M4370 3228h0M4325 3260h0M4493 3256h0M4291 3203h0M4331 3213h0M4538 2866h0M4324 3174h0M4374 3233h0M4657 3146h0M4551 2891h0M4792 2887h0M4228 3252h0M4440 2918h0M4563 2921h0M4231 3216h0M4390 3131h0M4563 2843h0M4469 2875h0M4317 3267h0M4501 3240h0M4565 2889h0M4343 3211h0M4340 3337h0M4644 3143h0M4440 3214h0M4285 3278h0M4618 2875h0M4538 2929h0M4353 3235h0M4309 3287h0M4334 3210h0M4523 2884h0M4530 2972h0M4375 3139h0M4295 3283h0M4314 3225h0M4498 2889h0M4343 2987h0M4131 3174h0M4327 3182h0M4529 2957h0M4298 3336h0M4486 2854h0M4371 3098h0M4551 2944h0M4614 2916h0M4525 2911h0M4444 2890h0M4343 3298h0M4533 2915h0M4808 2862h0M4788 2866h0M4497 2928h0M4351 3311h0M4384 3253h0M4692 3157h0M4383 3239h0M4437 3262h0M4244 3277h0M4424 2871h0M4565 2947h0M4450 3030h0M4308 3248h0M4209 3234h0M4796 2849h0M4393 3189h0M4540 2950h0M4256 3215h0M4372 2890h0M4351 3186h0M4373 3251h0M4341 3247h0M4468 2956h0M4580 3120h0M4496 2936h0M4774 2878h0M4523 2904h0M4378 3196h0M4349 3317h0M4419 2817h0M4296 3220h0M4482 2860h0M4468 2840h0M4549 2903h0M4457 2896h0M4366 3212h0M4366 3147h0M4246 3218h0M4486 2837h0M4256 3227h0M4462 2856h0M4526 2901h0M4445 2956h0M4454 2908h0M4395 3136h0M4596 2889h0M4382 3258h0"/>
<path stroke="#ff0000" stroke-opacity="0.75" d="M4305 3207h0M4294 3266h0M4341 3249h0M4572 2877h0M4420 2853h0M4494 2891h0M4267 3181h0M4424 2872h0M4482 2863h0M4240 3136h0M4690 3160h0M4670 3160h0M4361 3164h0M4373 2936h0M4458 3228h0M4263 3183h0M4467 2912h0M4473 2897h0M4685 3151h0M4560 2896h0M4532 2930h0M4483 2853h0M4663 3186h0M4791 2862h0M4328 3224h0M4479 2903h0M4675 3130h0M4794 2892h0M4264 3276h0M4577 2914h0M4612 3171h0M4238 3247h0M4374 2934h0M4291 3175h0M4420 3175h0M4572 2901h0M4541 2850h0M4546 2960h0M4375 3168h0M4425 2893h0M4358 3208h0M4260 3213h0M4436 2968h0M4545 2908h0M4512 2940h0M4416 2954h0M4520 2942h0M4181 3137h0M4403 3179h0M4450 2914h0M4528 2918h0M4372 3243h0M4272 3252h0M4774 2862h0M4499 2823h0M4396 2932h0M4644 3147h0M4535 2903h0M4619 3163h0M4523 2899h0M4319 3296h0M4136 3151h0M4509 2903h0M4489 2934h0M4271 3149h0M4766 2862h0M4281 3175h0M4302 3186h0M4547 2937h0M4507 2882h0M4346 3245h0M4637 3143h0M4460 2924h0M4620 2830h0M4407 2923h0M4207 3202h0M4463 2911h0M4572 2960h0M4540 2959h0M4633 3130h0M4360 3195h0M4324 3208h0M4388 3248h0M4327 3187h0M4340 3227h0M4365 3289h0M4435 2899h0M4431 3238h0M4498 2880h0M4371 3312h0M4388 2872h0M4556 2939h0M4354 3215h0M4631 3152h0M4395 3189h0M4453 2886h0M4396 3145h0M4486 2894h0M4380 3211h0M4182 3212h0M4485 3308h0M4662 3138h0M4417 3244h0M4470 2903h0M4252 3204h0M4534 2866h0M4279 3185h0M4674 2861h0M4564 2967h0M4665 3148h0M4471 2833h0M4399 2946h0M4331 3193h0M4232 3122h0M4392 3186h0M4239 3235h0M4491 2947h0M4532 2926h0M4275 3258h0M4470 2829h0M4543 2876h0M4371 3219h0M4403 3224h0M4426 2852h0M4347 3160h0M4410 3364h0M4658 3151h0M4551 2909h0M4661 3167h0M4338 3223h0M4422 3286h0M4244 3125h0M4466 2884h0M4338 3198h0M4459 2918h0M4516 3239h0M4312 3272h0M4309 3254h0M4473 2772h0M4293 3223h0M4561 2851h0M4271 3196h0M4347 3218h0M4338 3126h0M4798 2871h0M4479 2906h0M4278 3210h0M4417 3164h0M4248 3148h0M4384 2840h0M4309 3213h0M4480 3200h0M4249 3166h0M4469 3167h0M4404 3198h0M4553 2941h0M4669 2936h0M4791 2872h0M4544 2890h0M4794 2860h0M4435 2908h0M4249 3271h0M4792 2869h0M4245 3156h0M4509 2879h0M4440 2856h0M4344 3171h0M4544 2926h0M4350 3258h0M4302 3259h0M4490 2897h0M4507 2909h0M4251 3186h0M4437 2860h0M4493 2873h0M4522 2948h0M4449 2910h0M4342 3193h0M4415 2974h0M4280 3188h0M4522 2918h0M4791 2865h0M4238 3177h0M4378 3291h0M4268 3358h0M4197 3208h0M4446 2870h0M4542 2891h0M4788 2868h0M4271 3348h0M4501 2919h0M4542 2963h0M4300 3189h0"/>
<path stroke="#008000" stroke-opacity="0.8" d="M4625 3249h0M4134 3183h0M4155 3167h0M4750 3007h0M4809 3012h0M4787 2963h0M4751 2906h0M4868 3006h0M4173 3120h0M4798 2958h0M4140 3013h0M4424 2982h0M4381 2960h0M4671 2981h0M4807 3091h0M4107 3058h0M4182 2973h0M4790 3043h0M4684 2968h0M4149 3109h0M4184 3107h0M4744 2936h0M4742 3074h0M4823 3054h0M4648 3243h0M4173 3030h0M4161 3139h0M4751 2952h0M4896 3039h0M4429 2967h0M4797 2962h0M4397 2978h0M4124 3082h0M4787 2982h0M4765 2998h0M4089 3129h0M4126 3151h0M4632 3259h0M4140 3092h0M4154 3107h0M4086 3103h0M4917 3127h0M4379 2975h0M4457 2971h0M4788 3034h0M4146 3147h0M4867 2948h0M4763 3030h0M4748 3019h0M4125 3054h0M4882 2989h0M4834 3068h0M4119 3154h0M4368 2953h0M4858 2958h0M4150 3069h0M4082 3073h0M4678 2998h0M4182 3129h0M4362 2962h0M4735 2931h0M4793 3001h0M4740 2995h0M4446 2989h0M4408 2976h0M4368 2997h0M4152 3130h0M4860 3120h0M4160 3087h0M4816 2967h0M4101 3023h0M4413 2986h0M4239 3088h0M4148 3160h0M4760 3003h0M4436 2969h0M4873 2944h0M4802 2956h0M4664 3162h0M4828 3005h0M4131 3115h0M4763 2997h0M4769 3041h0M4716 3067h0M4749 2987h0M4701 3024h0M4776 3002h0M4796 3053h0M4084 3088h0M4775 3014h0M4126 2972h0M4707 2961h0M4093 3132h0M4412 2995h0M4121 3111h0M4706 3033h0M4216 3070h0M4678 3026h0M4787 3074h0M4743 3026h0M4196 3116h0M4787 3047h0M4160 3065h0M4661 3163h0M4608 3277h0M4402 2930h0M4162 3080h0M4129 3116h0M4082 3070h0M4750 2880h0M4711 2990h0M4779 3033h0M4727 2899h0M4170 3139h0M4186 3087h0M3970 3060h0M4099 3033h0M4756 3056h0M4744 3009h0M4201 3130h0M4000 3000h0M4740 3040h0M4411 2995h0M4879 2968h0M4744 2932h0M4078 3110h0M4802 2984h0M4140 3103h0M4106 3065h0M4803 3028h0M4863 2980h0M4148 3136h0M4176 3129h0M4234 3081h0M4193 3081h0M4428 2991h0M4773 3007h0M4083 3074h0M4599 3058h0M4863 3069h0M4795 3038h0M4100 3175h0M4167 3123h0M4750 3106h0M4676 2970h0M4776 3054h0M4804 3080h0M4177 3072h0M4775 2987h0M4203 3081h0M4805 2998h0M4426 2968h0M4179 3116h0M4120 3118h0M4197 3106h0M4144 3119h0M4705 2971h0M4646 3275h0M4121 3093h0M4170 3083h0M4136 3124h0M4756 2999h0M4662 3159h0M4190 3092h0M4424 2947h0M4134 3092h0M4856 2979h0M4175 3153h0M4641 3237h0M4726 2969h0M4123 3045h0M4128 3098h0M4213 3164h0M4797 3046h0M4439 2943h0M4435 2955h0M4763 2968h0M4170 3188h0M4654 3017h0M4730 3014h0M4055 3141h0M4812 3051h0M4618 3257h0M4427 2980h0M4705 2996h0M4088 3107h0M4057 3105h0M4166 3111h0M4144 3102h0M4163 3083h0M4200 3072h0M4796 3001h0M4106 3113h0M4383 2990h0M4079 3084h0M4431 2966h0M4228 3047h0M4113 3101h0M4165 3131h0M4732 3000h0M4627 3292h0M4923 3050h0M4718 2992h0M4822 3115h0M4194 3087h0M4768 3075h0M4372 2972h0M4855 2971h0M4133 3068h0M4828 2982h0M4107 3144h0M4066 3071h0M4788 2986h0M4200 3177h0M4881 2981h0M4363 2953h0M4972 2959h0M4164 3132h0M4435 2943h0"/>
<path stroke="#008000" stroke-opacity="0.8" d="M4635 3261h0M4107 3085h0M4750 2964h0M4855 3040h0M4785 2943h0M4810 2991h0M4379 2995h0M4409 2966h0M4631 3024h0M4746 2920h0M4754 3052h0M4803 3151h0M4848 3125h0M4784 2948h0M4893 2972h0M4140 3156h0M4740 2978h0M4831 3038h0M4186 3128h0M4441 2971h0M4150 3120h0M4620 3100h0M4183 3108h0M4246 3112h0M4656 2947h0M4834 2959h0M4189 3061h0M4813 2959h0M4825 2955h0M4910 3083h0M4169 3031h0M4217 3104h0M4747 2978h0M4112 3093h0M4420 2989h0M4754 3001h0M4805 2989h0M4898 3052h0M4410 2974h0M4180 3109h0M4682 2976h0M4835 2982h0M4148 3116h0M4444 2976h0M4868 3026h0M4138 3111h0M4191 3067h0M4931 2943h0M4395 2961h0M4770 3034h0M4184 3111h0M4719 2964h0M4621 3256h0M4111 3059h0M4177 3096h0M4439 2955h0M4886 2990h0M4778 3075h0M4752 2996h0M4124 3130h0M4757 3076h0M4710 3102h0M4170 3088h0M4206 3132h0M4146 3097h0M4090 3021h0M4599 2977h0M4772 3067h0M4737 3053h0M4739 2967h0M4400 2949h0M4768 2940h0M4765 3053h0M4419 2944h0M4744 3016h0M4366 2978h0M4150 3024h0M4658 3273h0M4620 3265h0M4742 3035h0M4174 3075h0M4837 2916h0M4058 3098h0M4785 2973h0M4741 3016h0M4192 3091h0M4813 3041h0M4141 3125h0M4135 3073h0M4732 3040h0M4099 3137h0M4819 3034h0M4266 3170h0M4588 3247h0M4384 2970h0M4129 3093h0M4768 3053h0M4811 3019h0M4116 3134h0M4730 2987h0M4735 2976h0M4376 2959h0M4770 2927h0M4755 2917h0M4620 3257h0M4086 3071h0M4829 3048h0M4145 3043h0M4210 2940h0M4597 2990h0M4699 3017h0M4639 3237h0M4114 3027h0M4819 2969h0M4605 3280h0M4847 2931h0M4863 3003h0M4883 3032h0M4809 3054h0M4703 3135h0M4219 3133h0M4673 3025h0M4111 3154h0M4604 3233h0M4125 3030h0M4793 2978h0M4862 2939h0M4135 3072h0M4601 3038h0M4169 3122h0M4150 3085h0M4226 3110h0M4186 3048h0M4681 3053h0M4759 3021h0M4116 3086h0M4785 3049h0M4657 3229h0M4635 3275h0M4619 3244h0M4773 3007h0M4884 2999h0M4077 3075h0M4699 3037h0M4799 2930h0M4705 3003h0M4858 2979h0M4127 3091h0M4184 3126h0M4172 3124h0M4059 3095h0M4096 3074h0M4608 3257h0M4070 3154h0M4127 3175h0M4379 2972h0M4140 3111h0M4149 3044h0M4848 2956h0M4182 3148h0M4112 3112h0M4700 3230h0M4679 2968h0M4613 3267h0M4150 3173h0M4904 3097h0M4150 2960h0M4795 3011h0M4520 3180h0M4867 3011h0M4794 2976h0M4805 3034h0M4137 3095h0M4799 2961h0M4813 3026h0M4836 3018h0M4701 3092h0M4090 3080h0M4122 3060h0M4133 3100h0M4692 2997h0M4609 3248h0M4392 2966h0M4741 3037h0M4192 3028h0M4661 3007h0M4125 3058h0M4873 3069h0M4453 2951h0M4445 2975h0M4446 2971h0M4412 2994h0M4596 3035h0M4588 3251h0M4179 3067h0M4768 2949h0M4903 2987h0M4822 2981h0M4805 2961h0M4176 3178h0M4695 3037h0M4781 3018h0M4680 3041h0M4589 3263h0M4710 3055h0M4148 3037h0M4072 3152h0M4403 2942h0M4074 3081h0M4403 2967h0M4432 2955h0M4145 3142h0M4703 3012h0M4408 2979h0M4162 3144h0M4612 2942h0M4433 2995h0M4575 3261h0M4847 3008h0"/>
<path stroke="#008000" stroke-opacity="0.8" d="M4122 3110h0M4387 2974h0M4068 3129h0M4759 3034h0M4757 3011h0M4155 3143h0M4626 3252h0M4739 2987h0M4187 3070h0M4762 2933h0M4410 2957h0M4816 3034h0M4133 3144h0M4423 2956h0M4233 3127h0M4437 2987h0M4131 3095h0M4111 3021h0M4389 2988h0M4758 3021h0M4636 2999h0M4698 3004h0M4190 3142h0M4149 3050h0M4373 2975h0M4655 3158h0M4591 2983h0M4368 2956h0M4151 3154h0M4153 3104h0M4110 3174h0M4420 2966h0M4387 2973h0M4185 3125h0M4795 3026h0M4181 3016h0M4154 3077h0M4757 2973h0M4760 3016h0M4720 2984h0M4735 2985h0M4408 2975h0M4752 2977h0M4840 3048h0M4752 2933h0M4158 3108h0M4158 3141h0M4828 2962h0M4797 2998h0M4727 3007h0M4239 3064h0M4401 2972h0M4821 2969h0M4904 2929h0M4172 3107h0M4090 3030h0M4373 2962h0M4396 3001h0M4678 3056h0M4739 2949h0M4940 2960h0M4145 3065h0M4178 3075h0M4689 2968h0M4729 3006h0M4641 3293h0M4663 2942h0M4765 3085h0M4177 3090h0M4610 3245h0M4901 3047h0M4714 2980h0M4394 2995h0M4599 3271h0M4746 3060h0M4372 2950h0M4441 2979h0M4744 3036h0M4613 3247h0M4744 3057h0M4103 3094h0M4749 2990h0M4706 2992h0M4115 3110h0M4405 2929h0M4764 2970h0M4428 2977h0M4899 3035h0M4739 3034h0M4814 2981h0M4717 3011h0M4747 2934h0M4815 3046h0M4792 2940h0M4216 3124h0M4852 2958h0M4672 3019h0M4149 3136h0M4846 3066h0M4920 3012h0M4733 3056h0M4163 3073h0M4421 2949h0M4642 3280h0M4391 2979h0M4690 3017h0M4107 3148h0M4184 3099h0M4777 3028h0M4653 3266h0M4870 2977h0M4118 3120h0M4833 2932h0M4935 2910h0M4393 2971h0M4878 3019h0M4812 3027h0M4729 3022h0M4371 2954h0M4749 3019h0M4898 3005h0M4937 2912h0M4083 3123h0M4762 3057h0M4817 3101h0M4745 2962h0M4440 2978h0M4209 3132h0M4822 2940h0M4214 3086h0M4779 2924h0M4392 2974h0M4721 3037h0M4691 3013h0M4832 2962h0M4406 2937h0M4778 3023h0M4815 2991h0M4740 2975h0M4751 3050h0M4139 3056h0M4428 2975h0M4123 3142h0M4197 3119h0M4081 3155h0M4735 3012h0M4173 3092h0M4846 2968h0M4948 3062h0M4387 2931h0M4930 3053h0M4189 3135h0M4862 3052h0M5006 2979h0M4718 3023h0M4608 3247h0M4747 3060h0M4776 2988h0M4852 3029h0M4088 3165h0M4112 3176h0M4764 3028h0M4588 3290h0M4649 2992h0M4126 3027h0M4157 3127h0M4423 2963h0M4857 3074h0M4077 3184h0M4752 3007h0M4820 3024h0M4648 3251h0M4177 3113h0M4625 3258h0M4103 3050h0M4663 3120h0M4672 2943h0M4089 3080h0M4211 3114h0M4178 3174h0M4078 3031h0M4793 3027h0M4698 3028h0M4121 3080h0M4768 3056h0M4278 3085h0M4400 2974h0M4700 3048h0M4115 3081h0M4780 3013h0M4411 2945h0M4694 3029h0M4384 2993h0M4764 3104h0M4767 2995h0M4745 3093h0M4662 2911h0M4437 2970h0M4756 2990h0M4124 3137h0M4792 3075h0M4382 2957h0M4758 3016h0M4159 3031h0M4172 3158h0M4048 3110h0M4126 3106h0M4155 3040h0M4141 3149h0M4664 2952h0M4663 3050h0M4755 2968h0M4090 3093h0M4580 3272h0M4150 3063h0M4725 2966h0M4827 3041h0M4423 3003h0"/>
<path stroke="#0000ff" stroke-opacity="0.8" d="M4696 2975h0M4627 2935h0M4644 2981h0M4793 3012h0M4204 3070h0M4587 3015h0M4212 3060h0M4239 2986h0M4593 2929h0M4612 2992h0M4699 2952h0M4718 2974h0M4287 3258h0M4192 3135h0M4274 3024h0M4243 3000h0M4294 2995h0M4698 2986h0M4153 3035h0M4603 2943h0M4216 3049h0M4300 3078h0M4239 2993h0M4727 3004h0M4701 2951h0M4688 2917h0M4123 3102h0M4721 2988h0M4180 3031h0M4229 3002h0M4293 3060h0M4311 3255h0M4182 3072h0M4617 2845h0M4715 2907h0M4696 2950h0M4716 2956h0M4160 3019h0M4592 2929h0M4332 3260h0M4303 3290h0M4616 3014h0M4743 2994h0M4728 2999h0M4239 3071h0M4718 2938h0M4318 3235h0M4298 3288h0M4697 2961h0M4337 3243h0M4325 2971h0M4747 2936h0M4215 3072h0M4651 3027h0M4716 3015h0M4729 2909h0M4278 3024h0M4676 2976h0M4220 2996h0M4662 2966h0M4761 2950h0M4233 3033h0M4594 2949h0M4912 3073h0M4776 2953h0M4252 3085h0M4915 3065h0M4896 3051h0M4682 3012h0M4226 3043h0M4613 2888h0M4731 2971h0M4204 3078h0M4263 3045h0M4273 2963h0M4606 2973h0M4213 3083h0M4902 3081h0M4264 3070h0M4209 3054h0M4201 2994h0M4761 3013h0M4219 3086h0M4617 2977h0M4572 3019h0M4601 2958h0M4909 3065h0M4191 2957h0M4144 3045h0M4206 3010h0M4179 3044h0M4308 3280h0M4922 3056h0M4243 3067h0M4299 3243h0M4743 2979h0M4260 3029h0M4638 2940h0M4738 2943h0M4606 3006h0M4748 2987h0M4682 2973h0M4199 3084h0M4276 2960h0M4681 2973h0M4340 3065h0M4194 3022h0M4921 3081h0M4170 2974h0M4207 3123h0M4646 3003h0M4249 3012h0M4634 2969h0M4885 3066h0M4725 3029h0M4202 3077h0M4304 3275h0M4752 2984h0M4773 2937h0M4150 3115h0M4758 2900h0M4235 2983h0M4735 3009h0M4729 2959h0M4269 3057h0M4308 3034h0M4271 3080h0M4644 2989h0M4562 2947h0M4669 2916h0M4685 2962h0M4720 2963h0M4266 3038h0M4677 2979h0M4224 3066h0M4315 3135h0M4648 3024h0M4827 3070h0M4322 3040h0M4237 3029h0M4248 3068h0M4176 3099h0M4572 2967h0M4743 3045h0M4296 2999h0M4813 2943h0M4255 3014h0M4182 3131h0M4782 2909h0M4370 2960h0M4706 2983h0M4945 3068h0M4323 3271h0M4908 3072h0M4265 3108h0M4051 2984h0M4671 2932h0M4410 2970h0M4164 3121h0M4613 2983h0M4283 3035h0M4256 3122h0M4807 2961h0M4200 3000h0M4257 3067h0M4234 3099h0M4689 2946h0M4322 3068h0M4279 3051h0M4668 3029h0M4753 2950h0M4369 3054h0M4629 2963h0M4947 3056h0M4280 3252h0M4691 2907h0M4279 3007h0M4700 2991h0M4746 3026h0M4251 3016h0M4169 3000h0M4142 3089h0M4604 2894h0M4668 2958h0M4914 3063h0M4190 3007h0M4592 2945h0M4704 2964h0M4737 2967h0M4635 2997h0M4690 3010h0M4249 3118h0M4723 2995h0M4203 3125h0M4180 2968h0M4299 3254h0M4245 3146h0M4235 3076h0M4872 3055h0M4686 2924h0M4697 2969h0M4245 3014h0M4279 3023h0M4660 3021h0M4200 3061h0M4224 3021h0M4726 2958h0M4302 3248h0M4700 2947h0M4328 3262h0M4647 2973h0M4263 3004h0M4363 2994h0M4369 3072h0M4231 3077h0M4181 3129h0M4268 3051h0M4898 3081h0M4721 2965h0M4207 3007h0M4326 3025h0M4643 2914h0M4676 3005h0M4677 2977h0M4951 3057h0M4310 3291h0M4269 3106h0M4221 3046h0M4604 2897h0M4186 3088h0M4191 3170h0M4611 2956h0M4603 2960h0M4667 3021h0M4651 2913h0M4296 3271h0M4619 2984h0M4166 3145h0M4703 2936h0M4652 2959h0M4152 3094h0M4593 2942h0M4915 3067h0M4282 3065h0M4272 3055h0M4161 3034h0M4284 3030h0M4338 3262h0M4179 3014h0M4621 3020h0M4598 3009h0M4705 3005h0M4293 3084h0M4281 3086h0M4675 2973h0M4190 3070h0M4271 2964h0M4720 2974h0"/>
<path stroke="#0000ff" stroke-opacity="0.8" d="M4915 3063h0M4614 2982h0M4049 3133h0M4336 3284h0M4763 3036h0M4156 3065h0M4583 2971h0M4211 3057h0M4678 3003h0M4651 3017h0M4141 3093h0M4621 2967h0M4133 3073h0M4253 3033h0M4211 3013h0M4782 3004h0M4520 2916h0M4666 2938h0M4692 3003h0M4717 2940h0M4224 3085h0M4594 2939h0M4706 2959h0M4315 3250h0M4306 3273h0M4696 2975h0M4224 3138h0M4947 3051h0M4148 3002h0M4196 3083h0M4268 3038h0M4684 3023h0M4639 2994h0M4643 2987h0M4337 3257h0M4768 2948h0M4109 3039h0M4249 3057h0M4153 3038h0M4267 3131h0M4766 2988h0M4587 2948h0M4390 3110h0M4548 2956h0M4215 3063h0M4570 2954h0M4232 3108h0M4224 3021h0M4302 2980h0M4667 2940h0M4900 3093h0M4704 3032h0M4240 2982h0M4590 2932h0M4331 3239h0M4313 3275h0M4329 3249h0M4593 2991h0M4698 2966h0M4220 3056h0M4162 3084h0M4712 3025h0M4617 2985h0M4201 2988h0M4708 3004h0M4690 2969h0M4147 3022h0M4947 3078h0M4577 2955h0M4212 3085h0M4214 3050h0M4699 2953h0M4243 3047h0M4915 3082h0M4124 3041h0M4915 3063h0M4607 2999h0M4777 3018h0M4950 3051h0M4614 3017h0M4167 3033h0M4721 2970h0M4623 2967h0M4699 2955h0M4546 2961h0M4103 3073h0M4127 3084h0M4306 3258h0M4725 2980h0M4274 3084h0M4897 3090h0M4138 3096h0M4532 3005h0M4520 3150h0M4684 3028h0M4289 3289h0M4710 2940h0M4327 3256h0M4241 3026h0M4726 3042h0M4222 2961h0M4298 3259h0M4758 2996h0M4688 2961h0M4191 3102h0M4911 3063h0M4621 2949h0M4643 3028h0M4608 2931h0M4317 3297h0M4638 2971h0M4908 3050h0M4304 3268h0M4287 3082h0M4329 2967h0M4299 3258h0M4287 3045h0M4700 2998h0M4300 3029h0M4227 3141h0M4251 3014h0M4684 2920h0M4672 2935h0M4667 2986h0M4302 3044h0M4681 3015h0M4243 3039h0M4275 3011h0M4618 3010h0M4674 2987h0M4222 3023h0M4624 2912h0M4243 3040h0M4922 3052h0M4282 3074h0M4186 3012h0M4662 2920h0M4736 2984h0M4724 2982h0M4170 3073h0M4221 3009h0M4440 3050h0M4884 3054h0M4103 3055h0M4192 3099h0M4132 3048h0M4895 3090h0M4253 3134h0M4613 3007h0M4198 3083h0M4731 2950h0M4320 3252h0M4913 3045h0M4580 3060h0M4287 2963h0M4770 2975h0M4717 2993h0M4670 2924h0M4205 3004h0M4274 3050h0M4287 3051h0M4307 3082h0M4731 2997h0M4605 3023h0M4316 3258h0M4946 3082h0M4653 3022h0M4254 3100h0M4222 3060h0M4675 2985h0M4650 2982h0M4119 3111h0M4304 3067h0M4280 3125h0M4303 3239h0M4119 3080h0M4192 3120h0M4711 2980h0M4232 3032h0M4148 3142h0M4676 2935h0M4702 2944h0M4150 3068h0M4251 3046h0M4726 2965h0M4267 3073h0M4294 3042h0M4362 3060h0M4340 2996h0M4700 2978h0M4649 2985h0M4305 3265h0M4681 2982h0M4222 3035h0M4577 2930h0M4202 3047h0M4609 2985h0M4882 3086h0M4691 3022h0M4620 3022h0M4727 2904h0M4284 3027h0M4642 2927h0M4698 2959h0M4580 2906h0M4333 3020h0M4208 3039h0M4639 2927h0M4694 2949h0M4255 2993h0M4891 2981h0M4591 2993h0M4581 2990h0M4166 2980h0M4681 3006h0M4729 2986h0M4314 3050h0M4626 3027h0M4703 2926h0M4681 3003h0M4693 2939h0M4184 3029h0M4118 3102h0M4242 3012h0M4546 2949h0M4186 3021h0M4324 3243h0M4902 3043h0M4199 3080h0M4696 2965h0M4681 2887h0M4245 3064h0M4234 3137h0M4317 3265h0M4470 3200h0M4640 2951h0M4178 3098h0M4342 3036h0M4679 3039h0M4614 2957h0M4327 3024h0M4238 3076h0M4249 3058h0M4926 3058h0M4617 2990h0M4725 3022h0M4672 2948h0M4305 2974h0M4882 3068h0M4274 3115h0M4737 3026h0M4738 3027h0M4152 3032h0M4621 2954h0M4596 2951h0M4338 3281h0M4636 2933h0M4196 3055h0"/>
<path stroke="#0000ff" stroke-opacity="0.8" d="M4295 3260h0M4899 3085h0M4691 2987h0M4261 3068h0M4267 3079h0M4104 3021h0M4303 2987h0M4237 3060h0M4286 3052h0M4159 3038h0M4276 3012h0M4201 3041h0M4235 3013h0M4764 2995h0M4399 3031h0M4868 3082h0M4230 3111h0M4763 2961h0M4193 2984h0M4265 3136h0M4564 2924h0M4252 3050h0M4608 2971h0M4637 2963h0M4156 3051h0M4608 3007h0M4679 3015h0M4410 3150h0M4237 3033h0M4260 3099h0M4633 2881h0M4704 2941h0M4933 3042h0M4935 3079h0M4290 2983h0M4266 3091h0M4697 2978h0M4631 2995h0M4742 2942h0M4625 2929h0M4683 3060h0M4260 3040h0M4294 3105h0M4295 3103h0M4750 2965h0M4152 2985h0M4659 2894h0M4223 3052h0M4198 3032h0M4147 2979h0M4326 3055h0M4716 2960h0M4686 2969h0M4663 2929h0M4210 3005h0M4262 3069h0M4258 3078h0M4687 2968h0M4746 3001h0M4700 2967h0M4566 2977h0M4728 2981h0M4644 2970h0M4682 2934h0M4729 3063h0M4923 3060h0M4722 2946h0M4932 3058h0M4287 3055h0M4677 2997h0M4579 3010h0M4629 3011h0M4295 3080h0M4232 3053h0M4925 3077h0M4690 3014h0M4217 3134h0M4262 3043h0M4308 3075h0M4909 3074h0M4676 3053h0M4918 3030h0M4697 2971h0M4734 2940h0M4280 3010h0M4695 2968h0M4757 3002h0M4750 2901h0M4590 2980h0M4277 3087h0M4908 3059h0M4297 3085h0M4218 3069h0M4304 3252h0M4224 3023h0M4298 2989h0M4805 2896h0M4224 3063h0M4193 3114h0M4640 2946h0M4244 2929h0M4169 3114h0M4214 3044h0M4704 2991h0M4636 2975h0M4199 3048h0M4669 2936h0M4711 2970h0M4210 3318h0M4232 3108h0M4619 2978h0M4260 3067h0M4690 3018h0M4675 2891h0M4210 3025h0M4741 2985h0M4194 3111h0M4684 2914h0M4638 2975h0M4735 3015h0M4309 3276h0M4668 2950h0M4673 2951h0M4640 2971h0M4150 3097h0M4185 3051h0M4707 2959h0M4749 2962h0M4610 2945h0M4654 2994h0M4604 3022h0M4152 3002h0M4302 2999h0M4604 2976h0M4320 3064h0M4691 2980h0M4118 3062h0M4918 3036h0M4324 3068h0M4310 3267h0M4624 2966h0M4152 3026h0M4258 3092h0M4585 2935h0M4567 2948h0M4701 2960h0M4302 3060h0M4693 2975h0M4192 3059h0M4164 3037h0M4689 3012h0M4176 3139h0M4611 2936h0M4237 2970h0M4706 2934h0M4659 2929h0M4283 3143h0M4223 3070h0M4300 3286h0M4271 3093h0M4181 3062h0M4246 3059h0M4198 3031h0M4288 3030h0M4651 2954h0M4717 2971h0M4722 2943h0M4737 2899h0M4297 3079h0M4749 2969h0M4189 3035h0M4301 3267h0M4262 3130h0M4273 3014h0M4231 3021h0M4759 3044h0M4659 2933h0M4186 3144h0M4654 2955h0M4566 2919h0M4275 3059h0M4315 3264h0M4203 3107h0M4206 3075h0M4664 3017h0M4685 2957h0M4128 3020h0M4269 3028h0M4595 2971h0M4927 3087h0M4175 3108h0M4902 3104h0M4735 3000h0M4756 2953h0M4363 3013h0M4272 3076h0M4593 2962h0M4120 3094h0M4661 2952h0M4718 2997h0M4598 2978h0M4263 3051h0M4259 2987h0M4325 3054h0M4618 2956h0M4181 3099h0M4173 3041h0M4135 3002h0M4190 3100h0M4886 3069h0M4328 3251h0M4232 3041h0M4204 3061h0M4277 3076h0M4909 3056h0M4223 3054h0M4583 2968h0M4631 3037h0M4669 2958h0M4141 3074h0M4885 3095h0M4273 3114h0M4235 3079h0M4891 3080h0M4284 3009h0M4703 2907h0M4300 3273h0M4159 3039h0M4321 3252h0M4765 3007h0M4204 3080h0M4675 2965h0M4152 3101h0M4933 3055h0M4532 2961h0M4656 2961h0M4706 2960h0M4223 3095h0M4186 3085h0M4725 2948h0M4187 3023h0M4285 3261h0M4934 3101h0M4280 3050h0M4686 2902h0M4261 3133h0M4277 2970h0M4305 3000h0M4753 2987h0M4599 2966h0M4611 2961h0M4687 2951h0M4266 2979h0M4935 3071h0M4242 2984h0M4307 2975h0M4237 2996h0"/>
<path stroke="#ff0000" stroke-opacity="0.75" d="M5635 3263h0M5942 3169h0M5715 2891h0M5856 2878h0M5609 3189h0M5625 3135h0M6094 2869h0M5649 3204h0M5725 3205h0M5906 2903h0M5689 3300h0M5942 2940h0M5761 2905h0M5823 2942h0M5596 3263h0M5670 3301h0M5616 3107h0M5643 3261h0M5627 3273h0M5713 2788h0M5571 3211h0M5776 2965h0M5621 3210h0M5806 2877h0M5592 3161h0M5680 3181h0M5704 3229h0M5590 3244h0M5858 2897h0M5801 2834h0M5713 2893h0M5647 3202h0M5600 3323h0M5840 2903h0M5844 2861h0M5500 3141h0M5770 2870h0M5519 3242h0M5685 3248h0M5859 2907h0M5559 3236h0M5638 3287h0M5532 3259h0M6086 2852h0M5742 2931h0M5794 2877h0M5635 3281h0M5938 3119h0M5949 3111h0M5709 3227h0M5781 2909h0M5823 2851h0M5828 2894h0M5747 2984h0M5833 2866h0M6091 2865h0M5913 3164h0M5575 3204h0M5703 2890h0M5787 2899h0M5656 3172h0M5889 2937h0M5585 3230h0M5828 2951h0M5943 3134h0M5668 3286h0M5840 2968h0M5725 2932h0M5494 3268h0M5643 3276h0M5873 2897h0M5712 2893h0M5723 3195h0M5936 3153h0M5756 3264h0M5739 2900h0M5677 3132h0M5767 2838h0M5673 2899h0M5863 2914h0M5947 3125h0M5713 3254h0M5722 3217h0M5802 2924h0M5639 3200h0M5664 2868h0M5725 2918h0M5749 2886h0M6091 2866h0M5819 2859h0M5616 3186h0M5669 3251h0M5697 3230h0M5723 3221h0M5672 3261h0M5486 3099h0M5810 3257h0M5584 3223h0M6102 2862h0M5735 2926h0M5678 2895h0M5622 3215h0M5732 2766h0M6067 2865h0M5793 2993h0M5798 2965h0M5699 2885h0M5859 2955h0M5711 3235h0M5813 2934h0M5595 3219h0M5704 3197h0M5815 2857h0M5793 3216h0M6089 2873h0M5876 2932h0M5838 2937h0M5588 3293h0M5540 3145h0M5994 3138h0M5791 2927h0M5657 3247h0M5892 2896h0M5674 3264h0M6092 2846h0M5850 2913h0M5667 3198h0M5725 3211h0M5653 3281h0M5681 3264h0M5855 2894h0M5680 3296h0M5622 3177h0M5599 3251h0M5527 3215h0M5931 2997h0M5811 2832h0M5620 3190h0M5632 3279h0M5713 3190h0M5801 2824h0M5925 3164h0M5847 2894h0M5661 3237h0M5743 2887h0M5955 3163h0M5768 2874h0M5633 3167h0M5589 3188h0M5553 3309h0M5808 2861h0M5586 3200h0M5587 3176h0M5649 3196h0M5694 3188h0M5834 2919h0M5723 2919h0M5768 2919h0M5790 2942h0M5843 2903h0M5716 2878h0M5822 2891h0M5624 3153h0M5472 3230h0M5829 2874h0M5703 3290h0M5812 2858h0M5664 3249h0M5748 2867h0M6078 2859h0M5707 3174h0M5691 3220h0M5730 3194h0M5998 3169h0M5777 2860h0M5821 2887h0M5948 3125h0M5662 3203h0M5735 2892h0M5814 2864h0M5928 3182h0M5747 2923h0M5693 2903h0M5633 3218h0M5813 2925h0M5925 3167h0M5809 2886h0M5980 2870h0M5731 3292h0M5620 3200h0M5654 3216h0M5680 3216h0M6083 2864h0"/>
<path stroke="#ff0000" stroke-opacity="0.75" d="M5588 3183h0M5613 3229h0M5754 2855h0M5767 2907h0M5720 3030h0M6101 2874h0M5513 3264h0M5983 3122h0M5593 3165h0M5639 3181h0M5751 2901h0M6086 2858h0M5788 2896h0M5783 2869h0M5930 3163h0M5663 3263h0M5804 2897h0M5735 2916h0M5891 2899h0M5931 3130h0M5789 2875h0M5606 3285h0M5955 3140h0M5707 2892h0M5611 3259h0M5668 2897h0M5667 3238h0M5862 2827h0M5602 3333h0M5668 3297h0M5714 3228h0M5632 3171h0M5781 2907h0M5764 2861h0M5786 2853h0M5799 2847h0M5883 2909h0M5740 2964h0M5759 3206h0M5863 2918h0M5865 2918h0M5766 2904h0M5512 3148h0M5877 2952h0M5860 2912h0M5812 2879h0M5978 3150h0M5771 2837h0M6087 2871h0M5529 3212h0M5778 2878h0M5954 3140h0M5871 2836h0M5693 3171h0M5659 3193h0M5834 2897h0M5592 3112h0M5809 2861h0M5544 3213h0M5819 2859h0M5785 2921h0M5633 3286h0M5740 3241h0M5577 3186h0M5816 2837h0M5671 3228h0M5639 3196h0M5867 2869h0M5837 2855h0M5578 3211h0M5767 2869h0M5828 2951h0M6090 2876h0M5802 2904h0M5847 2950h0M5742 3241h0M5652 3197h0M5721 3275h0M5746 2851h0M5698 3228h0M5719 2880h0M5835 2941h0M5543 3188h0M5769 2918h0M5570 3217h0M5664 3076h0M5784 2888h0M5774 2923h0M5656 3259h0M5828 2969h0M5734 2852h0M5708 3188h0M5575 3216h0M5913 2991h0M5693 3224h0M5981 3150h0M5651 3242h0M5762 2907h0M5563 3154h0M5698 3219h0M5839 2866h0M5810 2851h0M5820 2904h0M5784 3121h0M5949 3156h0M5592 3206h0M5757 2894h0M5625 3230h0M5744 2861h0M5717 3228h0M5947 3161h0M5895 2889h0M5841 2920h0M5712 2914h0M5675 3245h0M5732 2877h0M5664 3193h0M5681 3311h0M5817 2848h0M5635 3233h0M5853 2892h0M5766 3226h0M5795 2877h0M5564 3159h0M5569 3196h0M5680 2909h0M5873 2976h0M5626 3172h0M6088 2861h0M5787 2897h0M5523 3201h0M5773 2865h0M5836 2851h0M5549 3169h0M5795 2856h0M5788 2929h0M5759 2928h0M5710 3195h0M5593 3231h0M5710 2849h0M5668 3250h0M5612 3308h0M5802 2902h0M5784 2861h0M5660 3266h0M6087 2854h0M5700 3276h0M5622 2907h0M5623 3302h0M5675 3195h0M5852 2928h0M5861 2921h0M5823 2907h0M5771 2876h0M5675 3133h0M5898 2916h0M6074 2846h0M5943 3158h0M5593 3179h0M5756 2882h0M5790 2905h0M5842 2941h0M5718 3254h0M5603 3189h0M5544 3256h0M5530 3285h0M5866 2833h0M5794 2902h0M5496 3201h0M5642 3118h0M5728 3175h0M5590 3274h0M5646 3258h0M6078 2852h0M5868 2912h0M5812 2889h0M5916 3175h0M5943 3145h0M5524 3252h0M5585 3251h0M5807 2907h0M5493 3183h0M5874 2970h0M5671 3220h0M5707 3219h0M5859 2892h0M6118 3098h0M5943 3144h0M5707 2959h0M5891 2884h0M5613 3266h0M5517 3251h0M5724 3259h0"/>
<path stroke="#ff0000" stroke-opacity="0.75" d="M5629 3131h0M5857 2907h0M5884 2878h0M5807 2902h0M5802 2900h0M5734 2929h0M5582 3257h0M6093 2870h0M5752 2896h0M5779 2904h0M5792 2920h0M5745 2948h0M5725 2903h0M5835 2893h0M5584 3177h0M5716 2908h0M5447 3125h0M5731 3221h0M5527 3229h0M5746 2876h0M5600 3272h0M5601 3252h0M5565 3195h0M5802 2872h0M5622 3192h0M5721 3243h0M5843 2877h0M5620 3171h0M5835 2897h0M5621 3222h0M5787 2925h0M5644 3282h0M5834 2854h0M5658 2918h0M5904 2885h0M5910 2896h0M5461 3156h0M5574 3278h0M5931 3149h0M5847 3294h0M6076 2850h0M5949 3120h0M5735 2938h0M5663 3224h0M5587 3168h0M5643 3223h0M6079 2863h0M5590 3190h0M5810 2916h0M5634 3184h0M5823 2837h0M5805 2938h0M5626 3254h0M5845 2980h0M5900 2830h0M5686 3231h0M5763 3178h0M5784 2871h0M6086 2854h0M5714 3099h0M5525 3342h0M5619 3257h0M5795 2924h0M5761 2984h0M5813 2890h0M5604 3249h0M6084 2873h0M5822 2939h0M5695 3181h0M5822 3304h0M5858 2913h0M5998 3169h0M5480 3141h0M5528 3156h0M6087 2865h0M5675 3284h0M5770 2936h0M5697 3215h0M5606 3265h0M5825 2989h0M5521 3193h0M5554 3218h0M5654 3218h0M5560 3257h0M5733 2925h0M5705 3213h0M5772 2892h0M5635 3257h0M5726 2944h0M5933 3146h0M5870 2921h0M5639 3209h0M5605 3205h0M5623 3273h0M5773 2923h0M5867 2937h0M5804 2906h0M5749 2840h0M5839 2879h0M5762 3237h0M5602 3240h0M5657 3254h0M5790 2913h0M5722 2854h0M5630 3212h0M5728 3244h0M5664 3237h0M5805 2964h0M5814 2859h0M5624 3213h0M5705 3327h0M5658 2918h0M5653 3087h0M5561 3291h0M5760 2941h0M5740 2894h0M5747 2877h0M5695 3248h0M6002 3161h0M5736 2872h0M5987 3152h0M5714 2915h0M5589 3232h0M5639 3236h0M5833 2890h0M5631 3245h0M5749 2962h0M5640 3239h0M5786 2944h0M5631 3294h0M5909 3134h0M5966 3146h0M5599 3276h0M5848 3202h0M5798 2893h0M5762 2896h0M5852 2924h0M5685 3168h0M5691 3239h0M5609 3305h0M5627 3152h0M5754 3285h0M5710 3287h0M5936 3163h0M6088 2851h0M5431 3145h0M5837 3150h0M5776 2895h0M5743 2892h0M5593 3225h0M5596 3236h0M5778 2900h0M5793 2895h0M5527 3264h0M5796 2839h0M5599 3170h0M5694 3232h0M5788 2872h0M5649 3238h0M5898 2868h0M5866 2934h0M5817 2934h0M5926 3124h0M5681 3198h0M5949 3180h0M5644 3167h0M5628 3210h0M5864 2903h0M5640 3236h0M5737 3277h0M5640 3209h0M5801 2923h0M5843 2982h0M5812 2907h0M5644 3286h0M5592 3212h0M5686 2907h0M5625 3220h0M5594 3264h0M5610 3229h0M5594 3189h0M5736 2887h0M5794 2891h0M5747 2892h0M5674 3252h0M5735 2915h0M5803 2859h0M5585 3143h0M5823 2893h0M5539 3198h0M5699 2874h0M5650 3190h0M5798 2908h0"/>
<path stroke="#008000" stroke-opacity="0.8" d="M5440 3065h0M5889 3255h0M5434 3109h0M5443 3050h0M6116 3032h0M5412 3110h0M5896 3249h0M5470 3061h0M5401 3112h0M5712 2997h0M5915 3258h0M6096 2991h0M5936 3012h0M5944 2995h0M5699 2996h0M6089 2988h0M5445 3129h0M5434 3150h0M5900 3278h0M6039 3047h0M5422 3141h0M6014 2997h0M6036 3026h0M5372 3106h0M5912 3278h0M5378 3088h0M5407 3102h0M5437 3120h0M6046 3022h0M6054 3043h0M5416 3087h0M5414 3111h0M5991 2980h0M6252 2988h0M5398 3071h0M6039 3027h0M5959 3004h0M6012 2969h0M6040 2976h0M5447 3064h0M5689 2980h0M5449 3143h0M6031 3084h0M5418 3054h0M6089 3031h0M6017 3008h0M5445 3074h0M5407 3018h0M5433 3125h0M6013 2972h0M6084 3011h0M6069 3038h0M5464 3096h0M6026 3063h0M5697 2960h0M5945 3292h0M6149 3089h0M5411 3098h0M6071 2989h0M5696 2968h0M5375 3010h0M5402 3076h0M6083 3036h0M6167 3090h0M6044 3045h0M5438 3114h0M6007 2991h0M6091 2997h0M5372 3084h0M5959 2997h0M5452 3135h0M6102 2996h0M5730 2979h0M6086 3051h0M5990 2997h0M5958 2984h0M6106 2989h0M5404 3049h0M5994 2969h0M5984 3028h0M5428 3036h0M5504 3129h0M6027 3010h0M5706 2971h0M6017 2979h0M6029 2995h0M6017 3095h0M6035 2924h0M6101 3025h0M5689 2966h0M5919 3280h0M5893 3276h0M5920 3016h0M5411 3085h0M6077 3047h0M6065 3012h0M5885 3256h0M6037 2956h0M5714 2986h0M5458 3103h0M6123 2930h0M6077 2969h0M5465 3108h0M5405 3065h0M6057 3011h0M6080 2959h0M6095 2956h0M5708 2971h0M5407 3056h0M5461 3065h0M5418 3086h0M6011 3040h0M6010 3012h0M6027 2959h0M5382 3089h0M6088 3053h0M6063 3016h0M6109 2973h0M6041 3003h0M5981 3013h0M5440 3081h0M6069 3037h0M5383 3106h0M6090 3057h0M6157 3028h0M5400 3118h0M6095 2957h0M6030 3001h0M5717 2954h0M5907 3272h0M6173 3079h0M6056 3060h0M6071 3009h0M6138 2956h0M5397 3111h0M5895 3280h0M5676 2952h0M5907 3270h0M6087 3029h0M5452 3125h0M6048 2987h0M5388 3058h0M5958 3044h0M6140 3035h0M6044 3012h0M5381 3058h0M6133 3008h0M5984 2940h0M6080 2967h0M5378 3095h0M5655 2982h0M5700 2938h0M5737 2975h0M5414 3107h0M6104 3011h0M5967 2985h0M6052 2977h0M5434 3129h0M5355 3109h0M5480 3137h0M5416 3039h0M5488 3054h0M5467 3054h0M6035 2942h0M5351 3103h0M6249 2978h0M5454 3076h0M6022 3005h0M5966 3002h0M6116 3068h0M5401 3077h0M5685 2954h0M6041 3020h0M5404 3074h0M6143 3010h0M5535 2994h0M5416 3124h0M5904 3015h0M5940 2944h0M5381 3114h0M5676 2961h0M5940 3087h0M5946 3012h0M6144 3013h0M5451 3084h0M5723 2943h0M5447 3099h0M5464 3055h0M6001 3026h0M5412 3116h0M6085 3038h0M6042 2909h0M5916 3011h0M5712 2948h0M5336 3093h0M5894 3297h0M5450 3022h0M5435 3056h0M6013 2963h0M6000 3180h0M6046 2978h0M5961 3010h0M5378 3045h0M5383 3035h0M5935 3296h0M5860 3094h0M6103 2980h0M5443 3168h0M5452 3081h0M6134 3015h0M5937 3053h0M5912 3008h0M6065 3043h0M5327 3074h0M6016 3048h0M6001 3041h0M5682 2971h0M5475 3030h0"/>
<path stroke="#008000" stroke-opacity="0.8" d="M5373 3056h0M5378 2969h0M6041 3055h0M5369 3119h0M5418 3116h0M5714 2977h0M5913 2981h0M6011 3036h0M6111 3005h0M6001 3011h0M6117 3088h0M5407 3083h0M6154 2928h0M5446 3099h0M6043 2916h0M6021 2979h0M5372 3094h0M5384 3084h0M5952 3006h0M5449 3085h0M5992 2970h0M5325 3080h0M6037 3013h0M5408 3066h0M5398 3054h0M5370 3029h0M5374 3021h0M5374 3102h0M5450 3081h0M5830 3120h0M5430 3051h0M6118 3000h0M5901 3028h0M6052 3089h0M5739 2971h0M6126 2998h0M5322 3058h0M5373 3132h0M5912 3240h0M5711 2981h0M5392 3160h0M5934 3266h0M6050 3018h0M6050 3080h0M6218 2986h0M5705 2974h0M6156 3059h0M5955 3151h0M5391 3064h0M5472 3110h0M5977 3037h0M5416 3108h0M5951 3013h0M5442 3120h0M6050 3064h0M5708 2986h0M5721 2982h0M5393 3049h0M5920 3248h0M5664 2964h0M5697 2960h0M5345 3070h0M6073 3057h0M5452 2952h0M5382 3119h0M5951 3019h0M5700 2997h0M5991 3029h0M5882 2940h0M5930 2973h0M6060 3014h0M5405 3103h0M5669 2978h0M6062 3063h0M5666 2958h0M5385 3103h0M5876 3279h0M5447 3094h0M5705 2961h0M5714 2953h0M5698 2966h0M5694 2956h0M5961 2989h0M5666 2977h0M5451 3032h0M5477 3134h0M6068 3008h0M6002 3007h0M5677 2969h0M5716 2964h0M5699 2985h0M5437 3075h0M5337 3128h0M5449 3124h0M5399 3032h0M5869 3274h0M6097 2994h0M6072 2987h0M6015 2973h0M5394 3037h0M6040 2999h0M5651 2974h0M5694 2986h0M5391 3140h0M6117 3026h0M5337 3090h0M6090 2999h0M6033 2993h0M6057 3017h0M6083 2968h0M6097 2977h0M6012 2982h0M6027 2967h0M6063 3067h0M6029 3077h0M5387 3018h0M5991 2981h0M6004 3011h0M5411 3168h0M5407 3065h0M6068 3005h0M5962 2960h0M5878 3029h0M5482 3035h0M5374 3154h0M5519 3093h0M5667 2996h0M6023 3064h0M6095 2998h0M5407 3076h0M5932 3042h0M6000 3050h0M5934 3020h0M5475 3138h0M6065 3035h0M5943 3023h0M6149 2941h0M5997 3004h0M6024 3095h0M5320 3050h0M5966 3035h0M5643 2964h0M6067 2940h0M5696 2990h0M6063 2987h0M5920 3280h0M5976 3051h0M5373 3147h0M5650 2976h0M5495 3111h0M5427 3157h0M5947 2998h0M5367 3077h0M5412 3095h0M5430 3109h0M5676 2979h0M5923 2875h0M6000 2936h0M5952 3257h0M5395 3114h0M6004 2985h0M5982 3018h0M5940 3070h0M5896 3301h0M5698 2968h0M5335 3091h0M6057 3018h0M6076 2977h0M6065 3046h0M5473 3069h0M5320 3107h0M6029 3007h0M5682 3001h0M5967 3033h0M5330 3029h0M5992 3015h0M5908 3280h0M5413 3131h0M5426 3021h0M5980 2995h0M5405 3121h0M5935 3250h0M5942 2990h0M5914 3274h0M6011 2976h0M6027 3056h0M5449 3045h0M6061 3015h0M6008 3003h0M6021 3007h0M5992 3036h0M6026 3017h0M6044 2975h0M6120 2970h0M5641 2986h0M5659 2976h0M6149 3000h0M6121 3027h0M5675 2980h0M6084 3051h0M5702 2968h0M6067 3116h0M5987 3026h0M5400 3093h0M5386 3127h0M6099 2999h0M5904 2995h0M5406 3042h0M6031 3030h0M5679 2993h0M5472 3098h0M6093 3043h0M6151 2997h0M5695 2954h0M5453 3079h0M5989 3064h0M5699 2962h0M5461 3183h0"/>
<path stroke="#008000" stroke-opacity="0.8" d="M5368 3103h0M5704 2969h0M6109 3068h0M5924 2974h0M5695 2952h0M6043 2983h0M5684 2943h0M5475 2960h0M6001 3069h0M6018 3045h0M5873 3243h0M5431 3132h0M6124 3021h0M5971 2992h0M5698 2981h0M5386 2978h0M6001 3087h0M5411 3115h0M5458 3104h0M5699 2944h0M6122 2993h0M5353 3066h0M5700 2951h0M5718 2976h0M5378 3114h0M5951 3062h0M5961 3156h0M5967 3038h0M5431 3129h0M5968 3084h0M5912 3270h0M5401 3129h0M5975 2938h0M5674 3002h0M5411 3163h0M6022 2983h0M6035 2949h0M5969 2995h0M6072 3052h0M5364 3042h0M5378 3132h0M5689 2967h0M5397 3072h0M6032 3040h0M6104 2956h0M5431 3082h0M6139 2988h0M5478 3133h0M5427 3093h0M5935 2976h0M5438 3050h0M5946 3044h0M5451 3107h0M5382 3131h0M5932 2902h0M5478 3145h0M5502 3188h0M5673 2942h0M5321 3076h0M5684 2949h0M5389 3105h0M6014 2957h0M5393 3096h0M5352 3080h0M5419 3032h0M5986 3082h0M5437 3113h0M5904 3255h0M6051 3029h0M5700 2970h0M6004 3019h0M5989 3030h0M6003 2995h0M5385 3054h0M6053 2941h0M5354 3111h0M6003 3041h0M6009 3034h0M6202 2952h0M5956 3267h0M5693 2966h0M6027 2969h0M6075 2970h0M6130 3068h0M5319 3053h0M5452 3046h0M5394 3129h0M5394 3068h0M5460 3145h0M5427 3116h0M6128 3027h0M5433 3109h0M5447 3068h0M5315 3107h0M5394 3091h0M5417 3097h0M5367 3175h0M6033 3082h0M6026 3027h0M5991 3052h0M6030 2961h0M6032 3065h0M6067 2970h0M5445 3050h0M5427 3061h0M6031 3050h0M6043 3013h0M5395 3030h0M5950 2957h0M5335 3096h0M5383 3090h0M5365 3064h0M6066 3006h0M5485 3051h0M5717 2953h0M6002 2962h0M6057 3021h0M5340 3089h0M6097 3097h0M6150 3071h0M5955 3149h0M5419 3104h0M5433 3113h0M5357 3035h0M5688 2941h0M5952 3266h0M6112 2965h0M5456 3142h0M5431 3113h0M5951 2997h0M5721 2979h0M5676 2940h0M5972 3022h0M6082 3043h0M6050 2970h0M5466 3054h0M5683 2970h0M5456 3088h0M5954 3160h0M5391 3118h0M6061 3060h0M5405 3071h0M6022 3012h0M5694 2955h0M6062 3109h0M6055 2973h0M5371 3030h0M5417 3084h0M6023 3062h0M6004 2996h0M5898 3254h0M5677 2970h0M5919 3269h0M5948 3265h0M5420 3118h0M5958 2962h0M6026 3052h0M6027 3014h0M5959 2957h0M5998 3043h0M5723 2982h0M5461 3008h0M5389 3058h0M6005 2958h0M5417 3100h0M6078 3019h0M5481 3098h0M5487 3054h0M6000 2929h0M6068 3021h0M5679 2969h0M5371 3076h0M6056 3058h0M5951 2976h0M5685 2995h0M5435 3018h0M6055 3057h0M5921 3282h0M5976 3023h0M5412 3079h0M5850 3070h0M5672 2981h0M5362 3098h0M5904 3271h0M6071 2978h0M5698 2969h0M5668 2962h0M5951 3003h0M5701 2963h0M5886 3262h0M5938 3267h0M5859 2953h0M5413 3092h0M5481 3119h0M6094 3057h0M5473 3123h0M6106 3020h0M5416 3071h0M5838 3020h0M6022 3034h0M6019 2941h0M6088 3041h0M6102 2960h0M5944 2945h0M6036 3008h0M5440 3066h0M6072 2983h0M5679 2983h0M5972 3016h0M5894 3271h0M5699 2952h0M5358 3057h0M6060 3026h0M6224 2987h0M5702 2939h0M6067 3078h0M5448 3059h0M6013 3064h0"/>
<path stroke="#0000ff" stroke-opacity="0.8" d="M5633 2889h0M6006 2995h0M6049 3015h0M6040 2935h0M5620 2881h0M6025 2904h0M6095 2971h0M5525 3097h0M5585 2873h0M5453 3102h0M6039 3036h0M5568 3076h0M5919 2988h0M5544 3066h0M6062 3179h0M5601 3214h0M6043 3055h0M6073 3214h0M6101 2960h0M5487 3129h0M5606 3162h0M5467 3079h0M5465 3074h0M5930 3036h0M5991 2992h0M5494 3180h0M5583 3061h0M5617 3072h0M5528 3139h0M5945 2923h0M6004 2933h0M6002 3060h0M5974 2963h0M5642 2896h0M6023 2965h0M6014 3056h0M5589 3190h0M6011 3038h0M5610 3173h0M5582 3115h0M6084 3013h0M5622 3175h0M6065 3061h0M6032 2979h0M5510 3115h0M5982 2961h0M5962 3002h0M5564 3195h0M5469 3120h0M5502 3121h0M6140 3009h0M6037 2983h0M5598 2869h0M6031 3007h0M5999 2994h0M5540 3137h0M5571 3121h0M6054 3200h0M5504 3164h0M6002 2949h0M5547 3144h0M5960 3003h0M6048 3041h0M6041 3082h0M5935 2974h0M6013 3058h0M5501 3089h0M5998 2971h0M5491 3107h0M5983 2954h0M5652 2881h0M5960 3073h0M5639 3165h0M5939 3016h0M6015 2987h0M6086 3025h0M6037 2990h0M6055 2999h0M5538 3095h0M5487 3110h0M6036 3242h0M5587 3131h0M5947 2959h0M5959 2980h0M5563 3112h0M5511 3157h0M6093 2982h0M5510 3109h0M5458 3117h0M5494 3185h0M6073 3000h0M6033 3220h0M5417 3113h0M5657 2907h0M5498 3115h0M5965 2948h0M6070 2998h0M5517 3128h0M6017 3224h0M6047 3000h0M5991 3057h0M5464 3226h0M5600 2899h0M5516 3152h0M5987 3002h0M5997 3018h0M5982 2986h0M6047 2969h0M6066 3025h0M6005 2923h0M5441 3188h0M5631 2895h0M6110 3000h0M5637 2922h0M5530 3108h0M5575 2906h0M5406 2973h0M5521 3170h0M5521 3160h0M6027 3039h0M6017 3000h0M5423 3161h0M5487 3156h0M6055 3226h0M5621 3086h0M6038 3031h0M5484 3085h0M5615 3149h0M5391 3138h0M5547 3209h0M6115 2944h0M6012 3014h0M5880 2930h0M6099 3014h0M5604 2877h0M5391 3041h0M5582 3163h0M5641 3165h0M6099 2970h0M5410 3151h0M5573 3146h0M5418 3184h0M5554 3103h0M5482 3133h0M5551 3071h0M5978 2937h0M5527 3075h0M5898 2952h0M6060 3241h0M5532 3218h0M5546 3112h0M5730 3080h0M5482 3184h0M5513 3186h0M5605 3152h0M5475 3073h0M5935 3010h0M6002 3018h0M5950 2932h0M5621 2915h0M5531 3115h0M5547 3113h0M6033 2995h0M5535 3207h0M6028 3040h0M5497 3125h0M5501 3126h0M6010 2921h0M5972 3021h0M5998 2966h0M5528 3110h0M6053 3204h0M5634 2899h0M5982 2987h0M5579 3137h0M5415 3140h0M5545 3118h0M5785 3265h0M6050 2979h0M6023 3001h0M5550 3220h0M5433 3139h0M5668 3175h0M5598 3111h0M5920 3024h0M5635 2921h0M5493 3141h0M5560 3151h0M5495 3099h0M6135 3017h0M5608 3172h0M5562 3137h0M5611 3090h0M5479 3138h0M6111 3051h0M6069 3235h0M5511 3116h0M5582 3094h0M5478 3222h0M6048 3222h0M5969 2926h0M6013 3021h0M5641 3160h0M6021 3216h0M5498 3057h0M6010 3021h0M6003 2947h0M5935 2990h0M5598 2883h0M5680 3130h0M5549 3115h0M5964 3006h0M6065 3214h0M6005 2955h0M6018 3000h0M5939 2999h0M6083 2922h0M5971 3005h0M5547 3079h0M5905 3015h0M5916 2982h0M5563 3189h0M6047 3201h0M6059 2992h0M5542 3129h0M6014 2939h0M5949 2978h0M6043 2988h0M5592 2926h0M5426 3189h0M5615 3205h0M6090 3060h0M5639 2915h0M5989 2992h0M5924 2976h0M5951 3017h0M6090 3001h0M5612 2895h0M5409 3152h0M5569 3056h0M5959 3055h0M6037 3228h0M6037 3225h0M6070 3193h0M6011 3049h0M5452 3155h0M6061 3205h0M6051 3215h0M6080 2990h0M6005 3201h0M5548 3151h0M5978 2960h0M6100 3008h0M5577 3086h0M5610 3066h0M5936 2978h0M5666 2903h0M6013 3017h0M5968 3017h0M5651 2890h0"/>
<path stroke="#0000ff" stroke-opacity="0.8" d="M6011 3018h0M6016 2986h0M6018 2982h0M5954 2986h0M6006 2984h0M6004 2982h0M5517 3091h0M5999 3010h0M6018 2987h0M6002 2949h0M5968 3009h0M5452 3179h0M5542 3164h0M6084 3221h0M5540 3127h0M5548 3194h0M5920 2974h0M5487 3142h0M5913 3080h0M5459 3118h0M5542 3077h0M5591 3112h0M5578 3096h0M6019 3031h0M5628 2873h0M5484 3114h0M6032 3209h0M6048 3185h0M5537 3272h0M5926 3015h0M5636 3190h0M5529 3101h0M6006 2987h0M5543 3101h0M6074 3226h0M6088 3229h0M5507 3151h0M5919 2979h0M6020 2959h0M5522 3081h0M5937 2964h0M6022 3219h0M5598 3004h0M6039 3213h0M5633 3163h0M5512 3077h0M5561 3105h0M5966 3024h0M6027 3221h0M6042 2944h0M5450 3184h0M5504 3106h0M5543 3137h0M5474 3150h0M5989 3051h0M6083 2983h0M6061 3202h0M5563 3103h0M6075 2978h0M5992 3015h0M6030 3025h0M6114 2975h0M6053 3221h0M6024 3015h0M6036 3081h0M5597 3082h0M6010 2990h0M5476 3185h0M5530 3154h0M5611 3172h0M5938 2997h0M5948 2929h0M6096 2998h0M5948 2979h0M5574 3120h0M5539 3185h0M5570 3083h0M5515 3185h0M5964 2988h0M5448 3123h0M5505 3108h0M5445 3130h0M6082 2966h0M5966 3016h0M5518 3067h0M5546 3165h0M5997 2936h0M5476 3120h0M5621 2887h0M5557 3034h0M5577 3151h0M5492 3194h0M5446 3057h0M5566 3114h0M6078 3203h0M6039 2995h0M6056 2947h0M5945 3044h0M5962 2995h0M6032 3036h0M5574 3110h0M5653 2925h0M5351 3175h0M5998 2981h0M6080 3190h0M5491 3137h0M5601 2881h0M5910 3038h0M5458 3170h0M5441 3129h0M5558 3129h0M5459 3044h0M6090 3016h0M5507 3156h0M5590 2898h0M6079 2935h0M5450 3149h0M5419 3188h0M5958 3006h0M5555 3133h0M5594 3169h0M5626 3220h0M5524 3096h0M6088 2896h0M5460 3099h0M5560 3151h0M5584 3164h0M6072 2991h0M6100 2955h0M5571 3108h0M5911 2987h0M5425 3174h0M6011 3220h0M6044 3013h0M6007 2969h0M5350 3203h0M6011 3019h0M5967 2935h0M5544 3137h0M6030 3211h0M6050 3051h0M5599 2898h0M5618 2907h0M5898 2956h0M6030 2911h0M6054 3226h0M6028 2953h0M5983 3028h0M6060 3011h0M5594 3145h0M6031 3216h0M6073 2990h0M5654 2901h0M6070 3202h0M5432 3132h0M5804 3057h0M6067 3024h0M5538 3148h0M5472 2910h0M5940 3024h0M5465 3231h0M5521 3145h0M5501 3165h0M5538 3222h0M5502 3134h0M5496 3171h0M6071 3004h0M6025 2967h0M5597 2904h0M5547 3176h0M5401 3118h0M5570 3174h0M5918 2968h0M5492 3170h0M6025 3048h0M5639 3154h0M6051 3022h0M5615 2878h0M6014 3013h0M6044 2925h0M6114 2963h0M5979 2924h0M6029 2958h0M5978 3001h0M5407 3235h0M5987 2915h0M5936 2943h0M5475 3205h0M5861 3042h0M6037 3019h0M5996 3016h0M5517 3156h0M5579 3133h0M6011 3224h0M6064 2922h0M6001 3007h0M6004 2984h0M5574 3071h0M5451 3053h0M6017 3011h0M5432 3154h0M5561 3150h0M5582 3137h0M5641 2895h0M5534 3159h0M6003 2982h0M6061 2939h0M5622 2912h0M5998 3002h0M5588 3130h0M5955 2938h0M6042 2989h0M6100 3047h0M5912 3001h0M5943 3047h0M5432 3197h0M5969 2996h0M5555 3142h0M5549 3103h0M5469 3105h0M5656 2887h0M5553 3161h0M5620 3170h0M6018 3040h0M5992 3038h0M6069 3213h0M5537 3116h0M5984 3010h0M6039 3008h0M5992 2988h0M5604 2903h0M6063 3044h0M5969 3038h0M6036 2986h0M5573 2911h0M5606 3181h0M5468 3131h0M6021 2945h0M5580 3082h0M5940 3004h0M5473 3135h0M6061 2988h0M5972 2948h0M5952 2993h0M5469 3242h0M5996 3028h0M6034 3035h0M6043 3027h0M6039 3002h0M5509 3128h0M6112 2959h0M5567 3069h0M5980 3008h0M5981 2989h0M5991 3044h0M5467 3039h0M5398 3138h0M5512 3145h0M5523 3099h0M5513 3129h0"/>
<path stroke="#0000ff" stroke-opacity="0.8" d="M5471 3083h0M5978 2956h0M5591 3153h0M6015 3225h0M5464 3116h0M6026 3220h0M6044 2995h0M5605 3113h0M5589 3101h0M6073 3008h0M5521 3065h0M5848 3067h0M5605 3084h0M6012 3000h0M5918 2998h0M5511 3178h0M5488 3191h0M5579 2894h0M5416 3177h0M5974 2957h0M6064 2986h0M6061 2950h0M5515 3183h0M5447 3093h0M5566 3107h0M5476 3102h0M5491 3149h0M5633 3174h0M6022 3206h0M5931 3008h0M6049 2974h0M6047 3017h0M6061 3216h0M5371 3127h0M6043 3003h0M5967 3005h0M5488 3087h0M5613 3138h0M5737 3149h0M6037 3022h0M5565 2889h0M5459 3168h0M5631 3080h0M5588 3137h0M6016 2979h0M6017 2931h0M6040 2985h0M5402 3179h0M5941 3034h0M6038 3227h0M5522 3166h0M6076 2983h0M6039 3027h0M5982 3069h0M6005 3001h0M6053 2933h0M6038 3002h0M6016 2977h0M5625 2896h0M6031 2995h0M6062 2985h0M5418 3103h0M5887 2987h0M5653 2898h0M5473 3124h0M6045 3140h0M6093 2967h0M5561 3173h0M6026 3216h0M6003 3040h0M5549 3135h0M5508 3094h0M6015 2961h0M5648 2864h0M5949 2965h0M6034 3207h0M5920 3057h0M6186 2992h0M5975 2959h0M5523 3155h0M5496 3103h0M5452 3121h0M5512 3155h0M5502 3086h0M5564 3081h0M6030 2960h0M6035 3191h0M5395 3132h0M6004 3007h0M6001 3006h0M5981 3068h0M5945 2965h0M5983 3021h0M6062 3221h0M5530 3162h0M5431 3131h0M5515 3084h0M5431 3087h0M6056 3060h0M5567 3131h0M5903 2939h0M6097 2997h0M5973 3014h0M6062 3009h0M5551 3210h0M5999 3003h0M6039 3048h0M5931 2958h0M5587 3124h0M5912 2977h0M5607 3155h0M5538 3153h0M5648 3158h0M5593 3198h0M5607 3131h0M5600 3158h0M6044 3234h0M5512 3088h0M5918 3013h0M5662 3186h0M6029 3238h0M5465 3074h0M5623 2859h0M6056 3220h0M5524 3154h0M6001 3007h0M5986 3004h0M6000 2944h0M6044 2982h0M5530 3116h0M5505 3144h0M5901 2928h0M5573 3172h0M5599 3230h0M6057 3247h0M5510 3115h0M5550 3138h0M6055 3041h0M5640 3130h0M5339 3137h0M5627 2939h0M6032 3202h0M5654 2916h0M5982 2985h0M5959 2953h0M5649 2907h0M5560 3115h0M5984 2985h0M6067 3044h0M5586 2925h0M6012 2994h0M6062 2994h0M5482 3157h0M5601 2899h0M5578 2875h0M5455 3124h0M5460 3168h0M5545 3015h0M5638 2882h0M5561 3139h0M6045 3049h0M5627 3220h0M5957 2981h0M5630 2920h0M6072 3046h0M6006 3023h0M5559 3139h0M5577 3169h0M5651 3148h0M5934 3051h0M5530 3163h0M5437 3173h0M6103 2938h0M5585 3113h0M5573 3167h0M5614 2926h0M5532 3122h0M5913 2989h0M6019 3013h0M5474 3130h0M5427 3140h0M5531 3080h0M5945 2962h0M6087 3013h0M5988 3055h0M6143 3004h0M5550 3146h0M5491 3063h0M5926 2958h0M5890 2920h0M5648 3104h0M5444 3211h0M5635 2902h0M5579 3194h0M6013 3033h0M5471 3088h0M5998 3012h0M6036 3036h0M5452 3194h0M5543 3192h0M5949 3019h0M6053 2981h0M6056 3211h0M5418 3120h0M5612 3087h0M6091 2980h0M5468 3153h0M5481 3102h0M5475 3151h0M5971 3036h0M5505 3160h0M5547 3137h0M6063 2994h0M5585 3099h0M5981 2959h0M5899 3028h0M5516 3170h0M6053 3008h0M5504 3117h0M5581 3125h0M5493 3177h0M5597 2903h0M6112 2997h0M5657 3046h0M5954 2974h0M5597 3156h0M6078 3044h0M5611 2907h0M5545 3143h0M5919 2969h0M6057 2964h0M5617 3193h0M6008 3224h0M5439 3131h0M5482 3210h0M5489 3094h0M5977 2968h0M5387 3170h0M6008 2979h0M5913 3010h0M6125 3024h0M5493 3143h0M5541 3165h0M6108 3045h0M5453 3196h0M6007 3046h0M5547 3133h0M5455 3124h0M5602 2930h0M5974 2992h0M5988 2970h0M5633 3159h0M5466 3153h0M5394 3178h0M6036 2937h0M6043 2968h0M5430 3102h0M5928 2991h0M5915 3039h0M5991 2988h0"/></g>
</svg>
</body></html>
